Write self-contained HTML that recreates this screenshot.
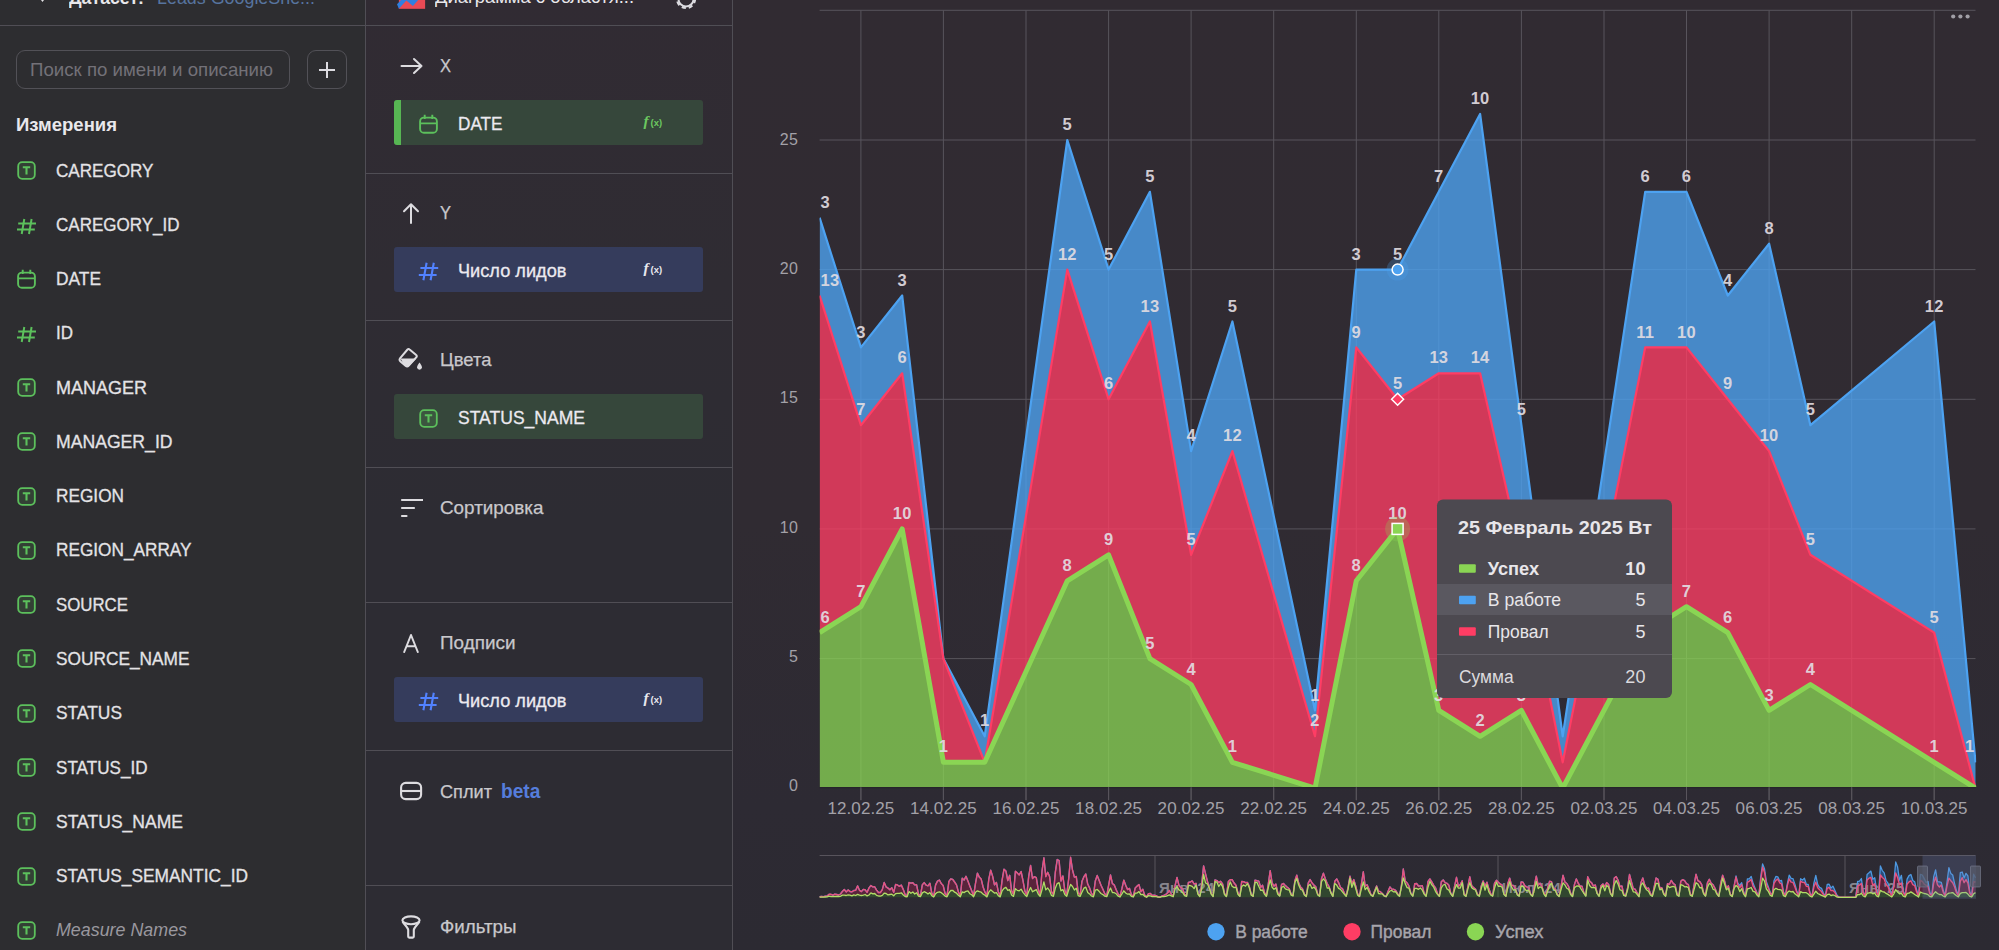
<!DOCTYPE html>
<html lang="ru"><head><meta charset="utf-8"><title>DataLens</title>
<style>
html,body{margin:0;padding:0}
body{width:1999px;height:950px;overflow:hidden;background:linear-gradient(180deg,#312b32 0%,#302b32 55%,#2d2a33 85%,#2c2a32 100%);font-family:"Liberation Sans", sans-serif;color:#e4e3e6;position:relative}
#left{position:absolute;left:0;top:0;width:365px;height:950px;background:#2d2d30;border-right:1px solid #504e55;overflow:hidden}
#mid{position:absolute;left:366px;top:0;width:366px;height:950px;background:linear-gradient(180deg,#312b33 0%,#2f2c33 30%,#2d2c33 55%,#2d2c33 100%);border-right:1px solid #504e55;overflow:hidden}
.top{position:absolute;left:0;top:0;right:0;height:25px;border-bottom:1px solid #504e55;overflow:hidden}
.search{position:absolute;left:15.5px;top:49.5px;width:272.5px;height:37.5px;border:1px solid #525157;border-radius:9px}
.search span{position:absolute;left:13px;top:8px;font-size:19px;color:#737178;white-space:nowrap;transform:scaleX(0.9819);transform-origin:0 50%}
.plus{position:absolute;left:307px;top:49.5px;width:38px;height:37.5px;border:1px solid #525157;border-radius:9px}
.plus:before{content:"";position:absolute;left:11px;top:18px;width:16px;height:2px;background:#dcdbe0}
.plus:after{content:"";position:absolute;left:18px;top:11px;width:2px;height:16px;background:#dcdbe0}
.h{position:absolute;left:16px;top:114px;font-size:18.5px;font-weight:bold;color:#e9e8ec;white-space:nowrap;transform-origin:0 50%;transform:scaleX(1.0006)}
.fi{position:absolute;left:17.3px;width:19px;height:19px}
.fn{position:absolute;left:56px;font-size:19px;line-height:28px;white-space:nowrap;color:#e4e3e6;transform-origin:0 50%;-webkit-text-stroke:.3px #e4e3e6}
.fn.it{font-style:italic;color:#9a989f;-webkit-text-stroke:0}
.hb{position:absolute;left:0;right:0;height:1px;background:#504e55}
.si{position:absolute}
.si svg,.fi svg,.pi svg,.pf svg{display:block}
.st{position:absolute;left:74px;font-size:18.5px;line-height:26px;white-space:nowrap;color:#c9c8cc;transform-origin:0 50%;-webkit-text-stroke:.25px #c9c8cc}
.beta{color:#557ddc;font-weight:bold;margin-left:4px;font-size:19.5px;-webkit-text-stroke:0}
.pill{position:absolute;left:28px;width:309px;height:45px;border-radius:3px}
.pill .bar{position:absolute;left:0;top:0;width:7px;height:45px;background:#57b653;border-radius:3px 0 0 3px}
.pi{position:absolute;left:25px;top:15px}
.pn{position:absolute;left:64px;top:9.8px;font-size:19px;line-height:28px;white-space:nowrap;color:#eceaf0;transform-origin:0 50%;-webkit-text-stroke:.3px #eceaf0}
.pf{position:absolute;left:249px;top:12.5px}
.tt{position:absolute;top:-14px;font-size:19px;line-height:normal;white-space:nowrap;transform-origin:0 50%}
</style></head><body>
<svg width="1999" height="950" viewBox="0 0 1999 950" style="position:absolute;left:0;top:0" font-family='"Liberation Sans", sans-serif'>
<line x1="819.6" x2="1975.5" y1="658.6" y2="658.6" stroke="#58545c" stroke-width="1"/>
<line x1="819.6" x2="1975.5" y1="528.9" y2="528.9" stroke="#58545c" stroke-width="1"/>
<line x1="819.6" x2="1975.5" y1="399.3" y2="399.3" stroke="#58545c" stroke-width="1"/>
<line x1="819.6" x2="1975.5" y1="269.6" y2="269.6" stroke="#58545c" stroke-width="1"/>
<line x1="819.6" x2="1975.5" y1="140.0" y2="140.0" stroke="#58545c" stroke-width="1"/>
<line x1="819.6" x2="1975.5" y1="10.3" y2="10.3" stroke="#58545c" stroke-width="1"/>
<line x1="860.9" x2="860.9" y1="10.3" y2="800.2" stroke="#58545c" stroke-width="1"/>
<line x1="943.4" x2="943.4" y1="10.3" y2="800.2" stroke="#58545c" stroke-width="1"/>
<line x1="1026.0" x2="1026.0" y1="10.3" y2="800.2" stroke="#58545c" stroke-width="1"/>
<line x1="1108.6" x2="1108.6" y1="10.3" y2="800.2" stroke="#58545c" stroke-width="1"/>
<line x1="1191.1" x2="1191.1" y1="10.3" y2="800.2" stroke="#58545c" stroke-width="1"/>
<line x1="1273.7" x2="1273.7" y1="10.3" y2="800.2" stroke="#58545c" stroke-width="1"/>
<line x1="1356.3" x2="1356.3" y1="10.3" y2="800.2" stroke="#58545c" stroke-width="1"/>
<line x1="1438.8" x2="1438.8" y1="10.3" y2="800.2" stroke="#58545c" stroke-width="1"/>
<line x1="1521.4" x2="1521.4" y1="10.3" y2="800.2" stroke="#58545c" stroke-width="1"/>
<line x1="1604.0" x2="1604.0" y1="10.3" y2="800.2" stroke="#58545c" stroke-width="1"/>
<line x1="1686.5" x2="1686.5" y1="10.3" y2="800.2" stroke="#58545c" stroke-width="1"/>
<line x1="1769.1" x2="1769.1" y1="10.3" y2="800.2" stroke="#58545c" stroke-width="1"/>
<line x1="1851.7" x2="1851.7" y1="10.3" y2="800.2" stroke="#58545c" stroke-width="1"/>
<line x1="1934.2" x2="1934.2" y1="10.3" y2="800.2" stroke="#58545c" stroke-width="1"/>
<defs><clipPath id="plot"><rect x="819.6" y="0" width="1156.7" height="787.0"/></clipPath></defs>
<g clip-path="url(#plot)">
<polygon points="819.6,217.7 860.9,347.4 902.2,295.5 943.4,658.6 984.7,736.3 1067.3,140.0 1108.6,269.6 1149.9,191.8 1191.1,451.1 1232.4,321.5 1315.0,710.4 1356.3,269.6 1397.6,269.6 1438.8,191.8 1480.1,114.0 1521.4,425.2 1562.7,736.3 1645.2,191.8 1686.5,191.8 1727.8,295.5 1769.1,243.7 1810.4,425.2 1934.2,321.5 1975.5,762.3 1975.5,788.2 1934.2,632.6 1810.4,554.8 1769.1,451.1 1727.8,399.3 1686.5,347.4 1645.2,347.4 1562.7,762.3 1521.4,554.8 1480.1,373.3 1438.8,373.3 1397.6,399.3 1356.3,347.4 1315.0,736.3 1232.4,451.1 1191.1,554.8 1149.9,321.5 1108.6,399.3 1067.3,269.6 984.7,762.3 943.4,658.6 902.2,373.3 860.9,425.2 819.6,295.5" fill="#4DA2F1" fill-opacity="0.79"/>
<polyline points="819.6,217.7 860.9,347.4 902.2,295.5 943.4,658.6 984.7,736.3 1067.3,140.0 1108.6,269.6 1149.9,191.8 1191.1,451.1 1232.4,321.5 1315.0,710.4 1356.3,269.6 1397.6,269.6 1438.8,191.8 1480.1,114.0 1521.4,425.2 1562.7,736.3 1645.2,191.8 1686.5,191.8 1727.8,295.5 1769.1,243.7 1810.4,425.2 1934.2,321.5 1975.5,762.3" fill="none" stroke="#4DA2F1" stroke-width="2.2" stroke-linejoin="round"/>
<polygon points="819.6,295.5 860.9,425.2 902.2,373.3 943.4,658.6 984.7,762.3 1067.3,269.6 1108.6,399.3 1149.9,321.5 1191.1,554.8 1232.4,451.1 1315.0,736.3 1356.3,347.4 1397.6,399.3 1438.8,373.3 1480.1,373.3 1521.4,554.8 1562.7,762.3 1645.2,347.4 1686.5,347.4 1727.8,399.3 1769.1,451.1 1810.4,554.8 1934.2,632.6 1975.5,788.2 1975.5,788.2 1934.2,762.3 1810.4,684.5 1769.1,710.4 1727.8,632.6 1686.5,606.7 1645.2,632.6 1562.7,788.2 1521.4,710.4 1480.1,736.3 1438.8,710.4 1397.6,528.9 1356.3,580.8 1315.0,788.2 1232.4,762.3 1191.1,684.5 1149.9,658.6 1108.6,554.8 1067.3,580.8 984.7,762.3 943.4,762.3 902.2,528.9 860.9,606.7 819.6,632.6" fill="#FF3D64" fill-opacity="0.78"/>
<polyline points="819.6,295.5 860.9,425.2 902.2,373.3 943.4,658.6 984.7,762.3 1067.3,269.6 1108.6,399.3 1149.9,321.5 1191.1,554.8 1232.4,451.1 1315.0,736.3 1356.3,347.4 1397.6,399.3 1438.8,373.3 1480.1,373.3 1521.4,554.8 1562.7,762.3 1645.2,347.4 1686.5,347.4 1727.8,399.3 1769.1,451.1 1810.4,554.8 1934.2,632.6 1975.5,788.2" fill="none" stroke="#FF3D64" stroke-width="2.2" stroke-linejoin="round"/>
<polygon points="819.6,632.6 860.9,606.7 902.2,528.9 943.4,762.3 984.7,762.3 1067.3,580.8 1108.6,554.8 1149.9,658.6 1191.1,684.5 1232.4,762.3 1315.0,788.2 1356.3,580.8 1397.6,528.9 1438.8,710.4 1480.1,736.3 1521.4,710.4 1562.7,788.2 1645.2,632.6 1686.5,606.7 1727.8,632.6 1769.1,710.4 1810.4,684.5 1934.2,762.3 1975.5,788.2 1975.5,788.2 819.6,788.2" fill="#8AD554" fill-opacity="0.76"/>
<polyline points="819.6,632.6 860.9,606.7 902.2,528.9 943.4,762.3 984.7,762.3 1067.3,580.8 1108.6,554.8 1149.9,658.6 1191.1,684.5 1232.4,762.3 1315.0,788.2 1356.3,580.8 1397.6,528.9 1438.8,710.4 1480.1,736.3 1521.4,710.4 1562.7,788.2 1645.2,632.6 1686.5,606.7 1727.8,632.6 1769.1,710.4 1810.4,684.5 1934.2,762.3 1975.5,788.2" fill="none" stroke="#8AD554" stroke-width="5" stroke-linejoin="round"/>
</g>
<line x1="819.6" x2="1975.5" y1="787.6" y2="787.6" stroke="#26242b" stroke-width="1.4"/>
<line x1="860.9" x2="860.9" y1="786.9000000000001" y2="800.2" stroke="#58545c" stroke-width="1"/>
<line x1="943.4" x2="943.4" y1="786.9000000000001" y2="800.2" stroke="#58545c" stroke-width="1"/>
<line x1="1026.0" x2="1026.0" y1="786.9000000000001" y2="800.2" stroke="#58545c" stroke-width="1"/>
<line x1="1108.6" x2="1108.6" y1="786.9000000000001" y2="800.2" stroke="#58545c" stroke-width="1"/>
<line x1="1191.1" x2="1191.1" y1="786.9000000000001" y2="800.2" stroke="#58545c" stroke-width="1"/>
<line x1="1273.7" x2="1273.7" y1="786.9000000000001" y2="800.2" stroke="#58545c" stroke-width="1"/>
<line x1="1356.3" x2="1356.3" y1="786.9000000000001" y2="800.2" stroke="#58545c" stroke-width="1"/>
<line x1="1438.8" x2="1438.8" y1="786.9000000000001" y2="800.2" stroke="#58545c" stroke-width="1"/>
<line x1="1521.4" x2="1521.4" y1="786.9000000000001" y2="800.2" stroke="#58545c" stroke-width="1"/>
<line x1="1604.0" x2="1604.0" y1="786.9000000000001" y2="800.2" stroke="#58545c" stroke-width="1"/>
<line x1="1686.5" x2="1686.5" y1="786.9000000000001" y2="800.2" stroke="#58545c" stroke-width="1"/>
<line x1="1769.1" x2="1769.1" y1="786.9000000000001" y2="800.2" stroke="#58545c" stroke-width="1"/>
<line x1="1851.7" x2="1851.7" y1="786.9000000000001" y2="800.2" stroke="#58545c" stroke-width="1"/>
<line x1="1934.2" x2="1934.2" y1="786.9000000000001" y2="800.2" stroke="#58545c" stroke-width="1"/>
<text x="798" y="791.0" text-anchor="end" font-size="16" fill="#a3a1a8" letter-spacing="0.2">0</text>
<text x="798" y="661.8" text-anchor="end" font-size="16" fill="#a3a1a8" letter-spacing="0.2">5</text>
<text x="798" y="532.5" text-anchor="end" font-size="16" fill="#a3a1a8" letter-spacing="0.2">10</text>
<text x="798" y="403.3" text-anchor="end" font-size="16" fill="#a3a1a8" letter-spacing="0.2">15</text>
<text x="798" y="274.1" text-anchor="end" font-size="16" fill="#a3a1a8" letter-spacing="0.2">20</text>
<text x="798" y="144.8" text-anchor="end" font-size="16" fill="#a3a1a8" letter-spacing="0.2">25</text>
<text x="860.9" y="814.2" text-anchor="middle" font-size="17" fill="#a3a1a8" letter-spacing="0.1">12.02.25</text>
<text x="943.4" y="814.2" text-anchor="middle" font-size="17" fill="#a3a1a8" letter-spacing="0.1">14.02.25</text>
<text x="1026.0" y="814.2" text-anchor="middle" font-size="17" fill="#a3a1a8" letter-spacing="0.1">16.02.25</text>
<text x="1108.6" y="814.2" text-anchor="middle" font-size="17" fill="#a3a1a8" letter-spacing="0.1">18.02.25</text>
<text x="1191.1" y="814.2" text-anchor="middle" font-size="17" fill="#a3a1a8" letter-spacing="0.1">20.02.25</text>
<text x="1273.7" y="814.2" text-anchor="middle" font-size="17" fill="#a3a1a8" letter-spacing="0.1">22.02.25</text>
<text x="1356.3" y="814.2" text-anchor="middle" font-size="17" fill="#a3a1a8" letter-spacing="0.1">24.02.25</text>
<text x="1438.8" y="814.2" text-anchor="middle" font-size="17" fill="#a3a1a8" letter-spacing="0.1">26.02.25</text>
<text x="1521.4" y="814.2" text-anchor="middle" font-size="17" fill="#a3a1a8" letter-spacing="0.1">28.02.25</text>
<text x="1604.0" y="814.2" text-anchor="middle" font-size="17" fill="#a3a1a8" letter-spacing="0.1">02.03.25</text>
<text x="1686.5" y="814.2" text-anchor="middle" font-size="17" fill="#a3a1a8" letter-spacing="0.1">04.03.25</text>
<text x="1769.1" y="814.2" text-anchor="middle" font-size="17" fill="#a3a1a8" letter-spacing="0.1">06.03.25</text>
<text x="1851.7" y="814.2" text-anchor="middle" font-size="17" fill="#a3a1a8" letter-spacing="0.1">08.03.25</text>
<text x="1934.2" y="814.2" text-anchor="middle" font-size="17" fill="#a3a1a8" letter-spacing="0.1">10.03.25</text>
<text x="820.6" y="622.7" text-anchor="start" font-size="16.5" font-weight="bold" fill="#e2dde2" fill-opacity="0.92" letter-spacing="0.2">6</text>
<text x="820.6" y="285.6" text-anchor="start" font-size="16.5" font-weight="bold" fill="#e2dde2" fill-opacity="0.92" letter-spacing="0.2">13</text>
<text x="820.6" y="207.8" text-anchor="start" font-size="16.5" font-weight="bold" fill="#e2dde2" fill-opacity="0.92" letter-spacing="0.2">3</text>
<text x="860.9" y="596.8" text-anchor="middle" font-size="16.5" font-weight="bold" fill="#e2dde2" fill-opacity="0.92" letter-spacing="0.2">7</text>
<text x="860.9" y="415.3" text-anchor="middle" font-size="16.5" font-weight="bold" fill="#e2dde2" fill-opacity="0.92" letter-spacing="0.2">7</text>
<text x="860.9" y="337.5" text-anchor="middle" font-size="16.5" font-weight="bold" fill="#e2dde2" fill-opacity="0.92" letter-spacing="0.2">3</text>
<text x="902.2" y="519.0" text-anchor="middle" font-size="16.5" font-weight="bold" fill="#e2dde2" fill-opacity="0.92" letter-spacing="0.2">10</text>
<text x="902.2" y="363.4" text-anchor="middle" font-size="16.5" font-weight="bold" fill="#e2dde2" fill-opacity="0.92" letter-spacing="0.2">6</text>
<text x="902.2" y="285.6" text-anchor="middle" font-size="16.5" font-weight="bold" fill="#e2dde2" fill-opacity="0.92" letter-spacing="0.2">3</text>
<text x="943.4" y="752.4" text-anchor="middle" font-size="16.5" font-weight="bold" fill="#e2dde2" fill-opacity="0.92" letter-spacing="0.2">1</text>
<text x="984.7" y="726.4" text-anchor="middle" font-size="16.5" font-weight="bold" fill="#e2dde2" fill-opacity="0.92" letter-spacing="0.2">1</text>
<text x="1067.3" y="570.9" text-anchor="middle" font-size="16.5" font-weight="bold" fill="#e2dde2" fill-opacity="0.92" letter-spacing="0.2">8</text>
<text x="1067.3" y="259.7" text-anchor="middle" font-size="16.5" font-weight="bold" fill="#e2dde2" fill-opacity="0.92" letter-spacing="0.2">12</text>
<text x="1067.3" y="130.1" text-anchor="middle" font-size="16.5" font-weight="bold" fill="#e2dde2" fill-opacity="0.92" letter-spacing="0.2">5</text>
<text x="1108.6" y="544.9" text-anchor="middle" font-size="16.5" font-weight="bold" fill="#e2dde2" fill-opacity="0.92" letter-spacing="0.2">9</text>
<text x="1108.6" y="389.4" text-anchor="middle" font-size="16.5" font-weight="bold" fill="#e2dde2" fill-opacity="0.92" letter-spacing="0.2">6</text>
<text x="1108.6" y="259.7" text-anchor="middle" font-size="16.5" font-weight="bold" fill="#e2dde2" fill-opacity="0.92" letter-spacing="0.2">5</text>
<text x="1149.9" y="648.7" text-anchor="middle" font-size="16.5" font-weight="bold" fill="#e2dde2" fill-opacity="0.92" letter-spacing="0.2">5</text>
<text x="1149.9" y="311.6" text-anchor="middle" font-size="16.5" font-weight="bold" fill="#e2dde2" fill-opacity="0.92" letter-spacing="0.2">13</text>
<text x="1149.9" y="181.9" text-anchor="middle" font-size="16.5" font-weight="bold" fill="#e2dde2" fill-opacity="0.92" letter-spacing="0.2">5</text>
<text x="1191.1" y="674.6" text-anchor="middle" font-size="16.5" font-weight="bold" fill="#e2dde2" fill-opacity="0.92" letter-spacing="0.2">4</text>
<text x="1191.1" y="544.9" text-anchor="middle" font-size="16.5" font-weight="bold" fill="#e2dde2" fill-opacity="0.92" letter-spacing="0.2">5</text>
<text x="1191.1" y="441.2" text-anchor="middle" font-size="16.5" font-weight="bold" fill="#e2dde2" fill-opacity="0.92" letter-spacing="0.2">4</text>
<text x="1232.4" y="752.4" text-anchor="middle" font-size="16.5" font-weight="bold" fill="#e2dde2" fill-opacity="0.92" letter-spacing="0.2">1</text>
<text x="1232.4" y="441.2" text-anchor="middle" font-size="16.5" font-weight="bold" fill="#e2dde2" fill-opacity="0.92" letter-spacing="0.2">12</text>
<text x="1232.4" y="311.6" text-anchor="middle" font-size="16.5" font-weight="bold" fill="#e2dde2" fill-opacity="0.92" letter-spacing="0.2">5</text>
<text x="1315.0" y="700.5" text-anchor="middle" font-size="16.5" font-weight="bold" fill="#e2dde2" fill-opacity="0.92" letter-spacing="0.2">1</text>
<text x="1315.0" y="726.4" text-anchor="middle" font-size="16.5" font-weight="bold" fill="#e2dde2" fill-opacity="0.92" letter-spacing="0.2">2</text>
<text x="1356.3" y="570.9" text-anchor="middle" font-size="16.5" font-weight="bold" fill="#e2dde2" fill-opacity="0.92" letter-spacing="0.2">8</text>
<text x="1356.3" y="337.5" text-anchor="middle" font-size="16.5" font-weight="bold" fill="#e2dde2" fill-opacity="0.92" letter-spacing="0.2">9</text>
<text x="1356.3" y="259.7" text-anchor="middle" font-size="16.5" font-weight="bold" fill="#e2dde2" fill-opacity="0.92" letter-spacing="0.2">3</text>
<text x="1397.6" y="519.0" text-anchor="middle" font-size="16.5" font-weight="bold" fill="#e2dde2" fill-opacity="0.92" letter-spacing="0.2">10</text>
<text x="1397.6" y="389.4" text-anchor="middle" font-size="16.5" font-weight="bold" fill="#e2dde2" fill-opacity="0.92" letter-spacing="0.2">5</text>
<text x="1397.6" y="259.7" text-anchor="middle" font-size="16.5" font-weight="bold" fill="#e2dde2" fill-opacity="0.92" letter-spacing="0.2">5</text>
<text x="1438.8" y="700.5" text-anchor="middle" font-size="16.5" font-weight="bold" fill="#e2dde2" fill-opacity="0.92" letter-spacing="0.2">3</text>
<text x="1438.8" y="363.4" text-anchor="middle" font-size="16.5" font-weight="bold" fill="#e2dde2" fill-opacity="0.92" letter-spacing="0.2">13</text>
<text x="1438.8" y="181.9" text-anchor="middle" font-size="16.5" font-weight="bold" fill="#e2dde2" fill-opacity="0.92" letter-spacing="0.2">7</text>
<text x="1480.1" y="726.4" text-anchor="middle" font-size="16.5" font-weight="bold" fill="#e2dde2" fill-opacity="0.92" letter-spacing="0.2">2</text>
<text x="1480.1" y="363.4" text-anchor="middle" font-size="16.5" font-weight="bold" fill="#e2dde2" fill-opacity="0.92" letter-spacing="0.2">14</text>
<text x="1480.1" y="104.1" text-anchor="middle" font-size="16.5" font-weight="bold" fill="#e2dde2" fill-opacity="0.92" letter-spacing="0.2">10</text>
<text x="1521.4" y="700.5" text-anchor="middle" font-size="16.5" font-weight="bold" fill="#e2dde2" fill-opacity="0.92" letter-spacing="0.2">3</text>
<text x="1521.4" y="544.9" text-anchor="middle" font-size="16.5" font-weight="bold" fill="#e2dde2" fill-opacity="0.92" letter-spacing="0.2">6</text>
<text x="1521.4" y="415.3" text-anchor="middle" font-size="16.5" font-weight="bold" fill="#e2dde2" fill-opacity="0.92" letter-spacing="0.2">5</text>
<text x="1645.2" y="622.7" text-anchor="middle" font-size="16.5" font-weight="bold" fill="#e2dde2" fill-opacity="0.92" letter-spacing="0.2">6</text>
<text x="1645.2" y="337.5" text-anchor="middle" font-size="16.5" font-weight="bold" fill="#e2dde2" fill-opacity="0.92" letter-spacing="0.2">11</text>
<text x="1645.2" y="181.9" text-anchor="middle" font-size="16.5" font-weight="bold" fill="#e2dde2" fill-opacity="0.92" letter-spacing="0.2">6</text>
<text x="1686.5" y="596.8" text-anchor="middle" font-size="16.5" font-weight="bold" fill="#e2dde2" fill-opacity="0.92" letter-spacing="0.2">7</text>
<text x="1686.5" y="337.5" text-anchor="middle" font-size="16.5" font-weight="bold" fill="#e2dde2" fill-opacity="0.92" letter-spacing="0.2">10</text>
<text x="1686.5" y="181.9" text-anchor="middle" font-size="16.5" font-weight="bold" fill="#e2dde2" fill-opacity="0.92" letter-spacing="0.2">6</text>
<text x="1727.8" y="622.7" text-anchor="middle" font-size="16.5" font-weight="bold" fill="#e2dde2" fill-opacity="0.92" letter-spacing="0.2">6</text>
<text x="1727.8" y="389.4" text-anchor="middle" font-size="16.5" font-weight="bold" fill="#e2dde2" fill-opacity="0.92" letter-spacing="0.2">9</text>
<text x="1727.8" y="285.6" text-anchor="middle" font-size="16.5" font-weight="bold" fill="#e2dde2" fill-opacity="0.92" letter-spacing="0.2">4</text>
<text x="1769.1" y="700.5" text-anchor="middle" font-size="16.5" font-weight="bold" fill="#e2dde2" fill-opacity="0.92" letter-spacing="0.2">3</text>
<text x="1769.1" y="441.2" text-anchor="middle" font-size="16.5" font-weight="bold" fill="#e2dde2" fill-opacity="0.92" letter-spacing="0.2">10</text>
<text x="1769.1" y="233.8" text-anchor="middle" font-size="16.5" font-weight="bold" fill="#e2dde2" fill-opacity="0.92" letter-spacing="0.2">8</text>
<text x="1810.4" y="674.6" text-anchor="middle" font-size="16.5" font-weight="bold" fill="#e2dde2" fill-opacity="0.92" letter-spacing="0.2">4</text>
<text x="1810.4" y="544.9" text-anchor="middle" font-size="16.5" font-weight="bold" fill="#e2dde2" fill-opacity="0.92" letter-spacing="0.2">5</text>
<text x="1810.4" y="415.3" text-anchor="middle" font-size="16.5" font-weight="bold" fill="#e2dde2" fill-opacity="0.92" letter-spacing="0.2">5</text>
<text x="1934.2" y="752.4" text-anchor="middle" font-size="16.5" font-weight="bold" fill="#e2dde2" fill-opacity="0.92" letter-spacing="0.2">1</text>
<text x="1934.2" y="622.7" text-anchor="middle" font-size="16.5" font-weight="bold" fill="#e2dde2" fill-opacity="0.92" letter-spacing="0.2">5</text>
<text x="1934.2" y="311.6" text-anchor="middle" font-size="16.5" font-weight="bold" fill="#e2dde2" fill-opacity="0.92" letter-spacing="0.2">12</text>
<text x="1974.5" y="752.4" text-anchor="end" font-size="16.5" font-weight="bold" fill="#e2dde2" fill-opacity="0.92" letter-spacing="0.2">1</text>
<circle cx="1397.6" cy="269.6" r="11" fill="#4DA2F1" fill-opacity="0.25"/>
<circle cx="1397.6" cy="269.6" r="5.5" fill="#4DA2F1" stroke="#fff" stroke-width="1.5"/>
<polygon points="1397.6,393.3 1403.6,399.3 1397.6,405.3 1391.6,399.3" fill="#FF3D64" stroke="#fff" stroke-width="1.5"/>
<circle cx="1397.6" cy="528.9" r="12.5" fill="#8AD554" fill-opacity="0.28"/>
<rect x="1392.1" y="523.4" width="11" height="11" fill="#8AD554" stroke="#fff" stroke-width="1.5"/>
<line x1="819.6" x2="1975.5" y1="855.5" y2="855.5" stroke="#58545c" stroke-width="1"/>
<line x1="1155" x2="1155" y1="855.5" y2="897.3" stroke="#58545c" stroke-width="1"/>
<line x1="1498" x2="1498" y1="855.5" y2="897.3" stroke="#58545c" stroke-width="1"/>
<line x1="1845" x2="1845" y1="855.5" y2="897.3" stroke="#58545c" stroke-width="1"/>
<polygon points="819.6,896.7 821.5,896.5 823.4,896.6 825.3,896.2 827.2,895.9 829.1,894.3 831.0,894.3 832.9,895.2 834.8,894.2 836.7,894.5 838.6,895.0 840.5,894.0 842.4,891.4 844.3,889.5 846.2,891.9 848.1,889.9 850.0,891.5 851.9,891.8 853.8,890.5 855.7,890.2 857.6,885.9 859.5,890.3 861.4,891.6 863.3,889.4 865.2,889.8 867.1,892.3 869.0,887.9 870.9,885.5 872.8,886.9 874.7,886.8 876.6,890.1 878.5,892.5 880.4,892.5 882.3,889.6 884.2,882.5 886.1,886.9 888.0,888.1 889.9,889.7 891.8,887.8 893.7,892.3 895.6,884.4 897.5,885.0 899.4,886.3 901.3,885.1 903.3,889.6 905.2,894.7 907.1,896.0 909.0,882.5 910.9,883.1 912.8,882.7 914.7,884.9 916.6,884.8 918.5,894.1 920.4,895.8 922.3,884.8 924.2,882.6 926.1,885.2 928.0,885.8 929.9,883.2 931.8,893.1 933.7,896.1 935.6,884.9 937.5,881.1 939.4,880.0 941.3,883.6 943.2,885.6 945.1,893.5 947.0,895.8 948.9,881.4 950.8,878.8 952.7,879.4 954.6,882.0 956.5,884.9 958.4,891.9 960.3,896.0 962.2,878.2 964.1,880.1 966.0,876.3 967.9,880.9 969.8,886.1 971.7,890.8 973.6,895.7 975.5,883.3 977.4,873.1 979.3,877.1 981.2,879.1 983.1,887.0 985.0,892.2 986.9,895.8 988.8,879.1 990.7,870.2 992.6,876.1 994.5,884.9 996.4,882.4 998.3,891.7 1000.2,895.9 1002.1,880.1 1004.0,869.2 1005.9,870.9 1007.8,880.5 1009.7,875.3 1011.6,890.6 1013.5,894.4 1015.4,871.3 1017.3,872.9 1019.2,874.9 1021.1,871.5 1023.0,880.7 1024.9,891.1 1026.8,895.0 1028.7,876.4 1030.6,865.4 1032.5,878.5 1034.4,876.6 1036.3,877.6 1038.2,889.3 1040.1,895.3 1042.0,871.1 1043.9,857.8 1045.8,876.6 1047.7,872.3 1049.6,876.6 1051.5,891.6 1053.4,894.6 1055.3,872.3 1057.2,859.5 1059.1,860.6 1061.0,881.0 1062.9,876.0 1064.8,890.3 1066.7,894.9 1068.7,878.5 1070.6,857.3 1072.5,869.9 1074.4,877.1 1076.3,876.5 1078.2,892.7 1080.1,894.9 1082.0,881.2 1083.9,876.7 1085.8,874.0 1087.7,884.0 1089.6,887.9 1091.5,893.5 1093.4,895.6 1095.3,881.0 1097.2,875.4 1099.1,880.2 1101.0,885.2 1102.9,889.2 1104.8,893.8 1106.7,895.9 1108.6,885.4 1110.5,875.0 1112.4,883.5 1114.3,885.1 1116.2,889.7 1118.1,893.8 1120.0,896.4 1121.9,888.7 1123.8,880.1 1125.7,885.3 1127.6,889.6 1129.5,888.4 1131.4,894.6 1133.3,896.5 1135.2,887.9 1137.1,886.1 1139.0,884.6 1140.9,891.5 1142.8,889.3 1144.7,895.1 1146.6,896.9 1148.5,893.7 1150.4,893.5 1152.3,895.4 1154.2,895.2 1156.1,895.6 1158.0,896.8 1159.9,897.2 1161.8,896.1 1163.7,895.4 1165.6,894.6 1167.5,892.9 1169.4,890.5 1171.3,894.3 1173.2,896.3 1175.1,885.3 1177.0,877.5 1178.9,885.2 1180.8,887.6 1182.7,889.1 1184.6,894.2 1186.5,896.1 1188.4,882.4 1190.3,882.0 1192.2,880.9 1194.1,884.0 1196.0,883.3 1197.9,893.3 1199.8,896.0 1201.7,884.1 1203.6,865.9 1205.5,873.7 1207.4,881.2 1209.3,886.9 1211.2,893.5 1213.1,896.1 1215.0,879.9 1216.9,880.6 1218.8,882.6 1220.7,881.3 1222.6,883.9 1224.5,893.4 1226.4,896.3 1228.3,881.6 1230.2,879.7 1232.1,879.7 1234.1,883.0 1236.0,885.3 1237.9,892.6 1239.8,896.1 1241.7,881.5 1243.6,881.7 1245.5,882.7 1247.4,882.4 1249.3,886.3 1251.2,894.1 1253.1,896.2 1255.0,880.2 1256.9,880.7 1258.8,881.1 1260.7,887.2 1262.6,885.3 1264.5,892.7 1266.4,896.2 1268.3,883.8 1270.2,870.6 1272.1,882.8 1274.0,886.1 1275.9,884.1 1277.8,892.6 1279.7,895.7 1281.6,884.4 1283.5,883.5 1285.4,885.6 1287.3,887.3 1289.2,888.7 1291.1,893.9 1293.0,895.6 1294.9,880.6 1296.8,875.1 1298.7,883.1 1300.6,886.9 1302.5,888.7 1304.4,894.2 1306.3,896.3 1308.2,883.1 1310.1,879.5 1312.0,882.8 1313.9,885.1 1315.8,886.8 1317.7,894.1 1319.6,896.0 1321.5,878.7 1323.4,873.1 1325.3,878.8 1327.2,883.6 1329.1,886.7 1331.0,892.6 1332.9,896.1 1334.8,881.2 1336.7,878.9 1338.6,882.6 1340.5,887.5 1342.4,888.6 1344.3,893.0 1346.2,896.0 1348.1,887.1 1350.0,876.1 1351.9,883.9 1353.8,879.6 1355.7,886.0 1357.6,893.7 1359.5,896.3 1361.4,884.2 1363.3,871.8 1365.2,886.0 1367.1,884.8 1369.0,889.0 1370.9,894.4 1372.8,896.1 1374.7,890.7 1376.6,885.9 1378.5,891.1 1380.4,891.7 1382.3,893.5 1384.2,895.7 1386.1,896.6 1388.0,891.5 1389.9,886.9 1391.8,889.1 1393.7,889.3 1395.6,890.4 1397.6,893.6 1399.5,896.1 1401.4,886.0 1403.3,869.0 1405.2,880.9 1407.1,882.9 1409.0,886.1 1410.9,893.4 1412.8,895.8 1414.7,883.8 1416.6,883.5 1418.5,886.0 1420.4,885.9 1422.3,885.7 1424.2,893.6 1426.1,895.8 1428.0,881.4 1429.9,878.9 1431.8,881.8 1433.7,885.3 1435.6,887.9 1437.5,893.8 1439.4,896.2 1441.3,881.8 1443.2,879.9 1445.1,882.6 1447.0,883.3 1448.9,885.3 1450.8,893.4 1452.7,896.0 1454.6,886.1 1456.5,877.3 1458.4,886.3 1460.3,884.6 1462.2,880.8 1464.1,894.0 1466.0,896.0 1467.9,886.3 1469.8,876.8 1471.7,885.7 1473.6,887.6 1475.5,889.0 1477.4,894.0 1479.3,895.8 1481.2,886.2 1483.1,881.0 1485.0,886.1 1486.9,882.2 1488.8,888.6 1490.7,893.6 1492.6,895.8 1494.5,883.4 1496.4,880.3 1498.3,882.3 1500.2,884.0 1502.1,884.8 1504.0,893.8 1505.9,896.1 1507.8,883.4 1509.7,878.1 1511.6,885.4 1513.5,885.5 1515.4,888.8 1517.3,894.2 1519.2,895.9 1521.1,882.0 1523.0,882.2 1524.9,885.9 1526.8,886.9 1528.7,887.3 1530.6,893.9 1532.5,896.0 1534.4,885.1 1536.3,876.2 1538.2,885.1 1540.1,883.3 1542.0,886.6 1543.9,892.6 1545.8,896.2 1547.7,887.9 1549.6,881.3 1551.5,881.6 1553.4,888.3 1555.3,888.9 1557.2,894.4 1559.1,896.2 1561.0,886.3 1563.0,875.3 1564.9,882.0 1566.8,883.5 1568.7,886.7 1570.6,893.2 1572.5,896.3 1574.4,884.6 1576.3,878.9 1578.2,883.2 1580.1,886.2 1582.0,886.1 1583.9,892.9 1585.8,895.7 1587.7,876.7 1589.6,880.9 1591.5,882.7 1593.4,885.9 1595.3,885.0 1597.2,893.3 1599.1,895.8 1601.0,885.8 1602.9,883.9 1604.8,886.5 1606.7,882.6 1608.6,884.5 1610.5,892.9 1612.4,896.2 1614.3,878.0 1616.2,876.6 1618.1,880.3 1620.0,886.7 1621.9,886.0 1623.8,894.4 1625.7,896.0 1627.6,887.8 1629.5,874.5 1631.4,881.7 1633.3,888.7 1635.2,889.2 1637.1,892.9 1639.0,896.3 1640.9,882.8 1642.8,878.0 1644.7,884.9 1646.6,888.6 1648.5,888.0 1650.4,893.4 1652.3,896.0 1654.2,886.9 1656.1,878.0 1658.0,879.3 1659.9,888.3 1661.8,887.8 1663.7,893.1 1665.6,895.8 1667.5,883.6 1669.4,884.3 1671.3,880.4 1673.2,883.4 1675.1,884.8 1677.0,893.7 1678.9,895.8 1680.8,881.2 1682.7,879.6 1684.6,880.6 1686.5,883.6 1688.4,884.6 1690.3,894.0 1692.2,895.9 1694.1,885.0 1696.0,874.3 1697.9,880.6 1699.8,881.7 1701.7,884.7 1703.6,892.7 1705.5,895.9 1707.4,882.8 1709.3,879.3 1711.2,883.2 1713.1,884.8 1715.0,888.3 1716.9,893.0 1718.8,896.3 1720.7,883.1 1722.6,875.3 1724.5,880.6 1726.4,888.4 1728.4,885.8 1730.3,894.2 1732.2,896.3 1734.1,886.1 1736.0,876.0 1737.9,883.3 1739.8,885.4 1741.7,882.7 1743.6,891.6 1745.5,896.2 1747.4,878.8 1749.3,878.8 1751.2,876.4 1753.1,883.3 1755.0,888.0 1756.9,892.6 1758.8,895.9 1760.7,877.2 1762.6,863.9 1764.5,868.8 1766.4,881.6 1768.3,886.8 1770.2,892.3 1772.1,895.5 1774.0,880.7 1775.9,876.4 1777.8,876.8 1779.7,881.0 1781.6,880.5 1783.5,891.8 1785.4,895.7 1787.3,883.9 1789.2,875.1 1791.1,878.3 1793.0,878.6 1794.9,884.1 1796.8,891.0 1798.7,895.8 1800.6,878.7 1802.5,880.1 1804.4,878.3 1806.3,884.3 1808.2,884.4 1810.1,893.2 1812.0,896.3 1813.9,883.2 1815.8,875.3 1817.7,884.3 1819.6,887.3 1821.5,888.3 1823.4,893.0 1825.3,896.0 1827.2,884.5 1829.1,884.2 1831.0,888.1 1832.9,886.1 1834.8,890.3 1836.7,894.6 1838.6,896.9 1840.5,897.3 1842.4,897.3 1844.3,897.3 1846.2,897.3 1848.1,897.3 1850.0,897.3 1851.9,897.3 1853.8,897.3 1855.7,897.3 1857.6,881.5 1859.5,881.2 1861.4,878.5 1863.3,892.3 1865.2,895.3 1867.1,874.4 1869.0,872.8 1870.9,871.1 1872.8,879.4 1874.7,877.6 1876.6,890.0 1878.5,895.4 1880.4,866.0 1882.3,870.6 1884.2,872.8 1886.1,880.7 1888.0,883.1 1889.9,890.3 1891.8,895.5 1893.8,883.1 1895.7,862.0 1897.6,867.1 1899.5,880.2 1901.4,875.3 1903.3,890.9 1905.2,895.5 1907.1,879.1 1909.0,875.6 1910.9,874.5 1912.8,880.5 1914.7,881.8 1916.6,889.6 1918.5,895.7 1920.4,874.4 1922.3,875.0 1924.2,878.6 1926.1,882.5 1928.0,881.4 1929.9,892.5 1931.8,895.4 1933.7,876.7 1935.6,869.8 1937.5,881.6 1939.4,881.9 1941.3,882.3 1943.2,889.9 1945.1,895.6 1947.0,882.4 1948.9,867.7 1950.8,873.4 1952.7,875.0 1954.6,883.6 1956.5,890.9 1958.4,894.9 1960.3,872.7 1962.2,872.0 1964.1,877.9 1966.0,873.3 1967.9,875.8 1969.8,892.1 1971.7,895.8 1973.6,874.2 1975.5,877.8 1975.5,882.0 1973.6,881.7 1971.7,896.1 1969.8,893.3 1967.9,883.2 1966.0,879.7 1964.1,882.7 1962.2,877.7 1960.3,881.3 1958.4,895.6 1956.5,892.7 1954.6,887.0 1952.7,882.7 1950.8,880.7 1948.9,878.1 1947.0,886.2 1945.1,896.0 1943.2,892.3 1941.3,885.1 1939.4,887.1 1937.5,884.8 1935.6,877.2 1933.7,883.1 1931.8,895.8 1929.9,894.1 1928.0,886.4 1926.1,885.3 1924.2,884.2 1922.3,881.3 1920.4,880.5 1918.5,896.2 1916.6,891.8 1914.7,885.6 1912.8,884.7 1910.9,880.8 1909.0,881.9 1907.1,884.2 1905.2,896.0 1903.3,892.9 1901.4,883.1 1899.5,884.9 1897.6,877.4 1895.7,872.9 1893.8,885.9 1891.8,896.0 1889.9,892.2 1888.0,886.5 1886.1,884.6 1884.2,879.0 1882.3,877.5 1880.4,874.9 1878.5,895.8 1876.6,892.3 1874.7,883.8 1872.8,885.3 1870.9,877.4 1869.0,878.2 1867.1,880.1 1865.2,895.7 1863.3,893.5 1861.4,883.5 1859.5,885.1 1857.6,885.8 1855.7,897.3 1853.8,897.3 1851.9,897.3 1850.0,897.3 1848.1,897.3 1846.2,897.3 1844.3,897.3 1842.4,897.3 1840.5,897.3 1838.6,897.1 1836.7,895.9 1834.8,892.2 1832.9,890.5 1831.0,890.6 1829.1,887.4 1827.2,888.4 1825.3,896.4 1823.4,894.5 1821.5,891.6 1819.6,889.8 1817.7,887.8 1815.8,882.2 1813.9,886.8 1812.0,896.5 1810.1,894.0 1808.2,886.4 1806.3,886.2 1804.4,882.5 1802.5,882.4 1800.6,881.1 1798.7,896.0 1796.8,892.2 1794.9,887.0 1793.0,882.4 1791.1,882.1 1789.2,878.9 1787.3,885.6 1785.4,895.9 1783.5,893.0 1781.6,884.0 1779.7,882.8 1777.8,879.1 1775.9,880.4 1774.0,883.4 1772.1,895.7 1770.2,892.9 1768.3,888.1 1766.4,884.2 1764.5,872.2 1762.6,867.2 1760.7,879.9 1758.8,896.2 1756.9,893.2 1755.0,889.1 1753.1,886.2 1751.2,879.6 1749.3,881.1 1747.4,882.4 1745.5,896.3 1743.6,892.5 1741.7,884.6 1739.8,887.6 1737.9,885.0 1736.0,876.9 1734.1,886.1 1732.2,896.3 1730.3,894.2 1728.4,885.8 1726.4,888.4 1724.5,880.6 1722.6,875.3 1720.7,883.1 1718.8,896.3 1716.9,893.0 1715.0,888.3 1713.1,884.8 1711.2,883.2 1709.3,879.3 1707.4,882.8 1705.5,895.9 1703.6,892.7 1701.7,884.7 1699.8,881.7 1697.9,880.6 1696.0,874.3 1694.1,885.0 1692.2,895.9 1690.3,894.0 1688.4,884.6 1686.5,883.6 1684.6,880.6 1682.7,879.6 1680.8,881.2 1678.9,895.8 1677.0,893.7 1675.1,884.8 1673.2,883.4 1671.3,880.4 1669.4,884.3 1667.5,883.6 1665.6,895.8 1663.7,893.1 1661.8,887.8 1659.9,888.3 1658.0,879.3 1656.1,878.0 1654.2,886.9 1652.3,896.0 1650.4,893.4 1648.5,888.0 1646.6,888.6 1644.7,884.9 1642.8,878.0 1640.9,882.8 1639.0,896.3 1637.1,892.9 1635.2,889.2 1633.3,888.7 1631.4,881.7 1629.5,874.5 1627.6,887.8 1625.7,896.0 1623.8,894.4 1621.9,886.0 1620.0,886.7 1618.1,880.3 1616.2,876.6 1614.3,878.0 1612.4,896.2 1610.5,892.9 1608.6,884.5 1606.7,882.6 1604.8,886.5 1602.9,883.9 1601.0,885.8 1599.1,895.8 1597.2,893.3 1595.3,885.0 1593.4,885.9 1591.5,882.7 1589.6,880.9 1587.7,876.7 1585.8,895.7 1583.9,892.9 1582.0,886.1 1580.1,886.2 1578.2,883.2 1576.3,878.9 1574.4,884.6 1572.5,896.3 1570.6,893.2 1568.7,886.7 1566.8,883.5 1564.9,882.0 1563.0,875.3 1561.0,886.3 1559.1,896.2 1557.2,894.4 1555.3,888.9 1553.4,888.3 1551.5,881.6 1549.6,881.3 1547.7,887.9 1545.8,896.2 1543.9,892.6 1542.0,886.6 1540.1,883.3 1538.2,885.1 1536.3,876.2 1534.4,885.1 1532.5,896.0 1530.6,893.9 1528.7,887.3 1526.8,886.9 1524.9,885.9 1523.0,882.2 1521.1,882.0 1519.2,895.9 1517.3,894.2 1515.4,888.8 1513.5,885.5 1511.6,885.4 1509.7,878.1 1507.8,883.4 1505.9,896.1 1504.0,893.8 1502.1,884.8 1500.2,884.0 1498.3,882.3 1496.4,880.3 1494.5,883.4 1492.6,895.8 1490.7,893.6 1488.8,888.6 1486.9,882.2 1485.0,886.1 1483.1,881.0 1481.2,886.2 1479.3,895.8 1477.4,894.0 1475.5,889.0 1473.6,887.6 1471.7,885.7 1469.8,876.8 1467.9,886.3 1466.0,896.0 1464.1,894.0 1462.2,880.8 1460.3,884.6 1458.4,886.3 1456.5,877.3 1454.6,886.1 1452.7,896.0 1450.8,893.4 1448.9,885.3 1447.0,883.3 1445.1,882.6 1443.2,879.9 1441.3,881.8 1439.4,896.2 1437.5,893.8 1435.6,887.9 1433.7,885.3 1431.8,881.8 1429.9,878.9 1428.0,881.4 1426.1,895.8 1424.2,893.6 1422.3,885.7 1420.4,885.9 1418.5,886.0 1416.6,883.5 1414.7,883.8 1412.8,895.8 1410.9,893.4 1409.0,886.1 1407.1,882.9 1405.2,880.9 1403.3,869.0 1401.4,886.0 1399.5,896.1 1397.6,893.6 1395.6,890.4 1393.7,889.3 1391.8,889.1 1389.9,886.9 1388.0,891.5 1386.1,896.6 1384.2,895.7 1382.3,893.5 1380.4,891.7 1378.5,891.1 1376.6,885.9 1374.7,890.7 1372.8,896.1 1370.9,894.4 1369.0,889.0 1367.1,884.8 1365.2,886.0 1363.3,871.8 1361.4,884.2 1359.5,896.3 1357.6,893.7 1355.7,886.0 1353.8,879.6 1351.9,883.9 1350.0,876.1 1348.1,887.1 1346.2,896.0 1344.3,893.0 1342.4,888.6 1340.5,887.5 1338.6,882.6 1336.7,878.9 1334.8,881.2 1332.9,896.1 1331.0,892.6 1329.1,886.7 1327.2,883.6 1325.3,878.8 1323.4,873.1 1321.5,878.7 1319.6,896.0 1317.7,894.1 1315.8,886.8 1313.9,885.1 1312.0,882.8 1310.1,879.5 1308.2,883.1 1306.3,896.3 1304.4,894.2 1302.5,888.7 1300.6,886.9 1298.7,883.1 1296.8,875.1 1294.9,880.6 1293.0,895.6 1291.1,893.9 1289.2,888.7 1287.3,887.3 1285.4,885.6 1283.5,883.5 1281.6,884.4 1279.7,895.7 1277.8,892.6 1275.9,884.1 1274.0,886.1 1272.1,882.8 1270.2,870.6 1268.3,883.8 1266.4,896.2 1264.5,892.7 1262.6,885.3 1260.7,887.2 1258.8,881.1 1256.9,880.7 1255.0,880.2 1253.1,896.2 1251.2,894.1 1249.3,886.3 1247.4,882.4 1245.5,882.7 1243.6,881.7 1241.7,881.5 1239.8,896.1 1237.9,892.6 1236.0,885.3 1234.1,883.0 1232.1,879.7 1230.2,879.7 1228.3,881.6 1226.4,896.3 1224.5,893.4 1222.6,883.9 1220.7,881.3 1218.8,882.6 1216.9,880.6 1215.0,879.9 1213.1,896.1 1211.2,893.5 1209.3,886.9 1207.4,881.2 1205.5,873.7 1203.6,865.9 1201.7,884.1 1199.8,896.0 1197.9,893.3 1196.0,883.3 1194.1,884.0 1192.2,880.9 1190.3,882.0 1188.4,882.4 1186.5,896.1 1184.6,894.2 1182.7,889.1 1180.8,887.6 1178.9,885.2 1177.0,877.5 1175.1,885.3 1173.2,896.3 1171.3,894.3 1169.4,890.5 1167.5,892.9 1165.6,894.6 1163.7,895.4 1161.8,896.1 1159.9,897.2 1158.0,896.8 1156.1,895.6 1154.2,895.2 1152.3,895.4 1150.4,893.5 1148.5,893.7 1146.6,896.9 1144.7,895.1 1142.8,889.3 1140.9,891.5 1139.0,884.6 1137.1,886.1 1135.2,887.9 1133.3,896.5 1131.4,894.6 1129.5,888.4 1127.6,889.6 1125.7,885.3 1123.8,880.1 1121.9,888.7 1120.0,896.4 1118.1,893.8 1116.2,889.7 1114.3,885.1 1112.4,883.5 1110.5,875.0 1108.6,885.4 1106.7,895.9 1104.8,893.8 1102.9,889.2 1101.0,885.2 1099.1,880.2 1097.2,875.4 1095.3,881.0 1093.4,895.6 1091.5,893.5 1089.6,887.9 1087.7,884.0 1085.8,874.0 1083.9,876.7 1082.0,881.2 1080.1,894.9 1078.2,892.7 1076.3,876.5 1074.4,877.1 1072.5,869.9 1070.6,857.3 1068.7,878.5 1066.7,894.9 1064.8,890.3 1062.9,876.0 1061.0,881.0 1059.1,860.6 1057.2,859.5 1055.3,872.3 1053.4,894.6 1051.5,891.6 1049.6,876.6 1047.7,872.3 1045.8,876.6 1043.9,857.8 1042.0,871.1 1040.1,895.3 1038.2,889.3 1036.3,877.6 1034.4,876.6 1032.5,878.5 1030.6,865.4 1028.7,876.4 1026.8,895.0 1024.9,891.1 1023.0,880.7 1021.1,871.5 1019.2,874.9 1017.3,872.9 1015.4,871.3 1013.5,894.4 1011.6,890.6 1009.7,875.3 1007.8,880.5 1005.9,870.9 1004.0,869.2 1002.1,880.1 1000.2,895.9 998.3,891.7 996.4,882.4 994.5,884.9 992.6,876.1 990.7,870.2 988.8,879.1 986.9,895.8 985.0,892.2 983.1,887.0 981.2,879.1 979.3,877.1 977.4,873.1 975.5,883.3 973.6,895.7 971.7,890.8 969.8,886.1 967.9,880.9 966.0,876.3 964.1,880.1 962.2,878.2 960.3,896.0 958.4,891.9 956.5,884.9 954.6,882.0 952.7,879.4 950.8,878.8 948.9,881.4 947.0,895.8 945.1,893.5 943.2,885.6 941.3,883.6 939.4,880.0 937.5,881.1 935.6,884.9 933.7,896.1 931.8,893.1 929.9,883.2 928.0,885.8 926.1,885.2 924.2,882.6 922.3,884.8 920.4,895.8 918.5,894.1 916.6,884.8 914.7,884.9 912.8,882.7 910.9,883.1 909.0,882.5 907.1,896.0 905.2,894.7 903.3,889.6 901.3,885.1 899.4,886.3 897.5,885.0 895.6,884.4 893.7,892.3 891.8,887.8 889.9,889.7 888.0,888.1 886.1,886.9 884.2,882.5 882.3,889.6 880.4,892.5 878.5,892.5 876.6,890.1 874.7,886.8 872.8,886.9 870.9,885.5 869.0,887.9 867.1,892.3 865.2,889.8 863.3,889.4 861.4,891.6 859.5,890.3 857.6,885.9 855.7,890.2 853.8,890.5 851.9,891.8 850.0,891.5 848.1,889.9 846.2,891.9 844.3,889.5 842.4,891.4 840.5,894.0 838.6,895.0 836.7,894.5 834.8,894.2 832.9,895.2 831.0,894.3 829.1,894.3 827.2,895.9 825.3,896.2 823.4,896.6 821.5,896.5 819.6,896.7" fill="#2a62a8" fill-opacity="0.6"/>
<polygon points="819.6,896.7 821.5,896.5 823.4,896.6 825.3,896.2 827.2,895.9 829.1,894.3 831.0,894.3 832.9,895.2 834.8,894.2 836.7,894.5 838.6,895.0 840.5,894.0 842.4,891.4 844.3,889.5 846.2,891.9 848.1,889.9 850.0,891.5 851.9,891.8 853.8,890.5 855.7,890.2 857.6,885.9 859.5,890.3 861.4,891.6 863.3,889.4 865.2,889.8 867.1,892.3 869.0,887.9 870.9,885.5 872.8,886.9 874.7,886.8 876.6,890.1 878.5,892.5 880.4,892.5 882.3,889.6 884.2,882.5 886.1,886.9 888.0,888.1 889.9,889.7 891.8,887.8 893.7,892.3 895.6,884.4 897.5,885.0 899.4,886.3 901.3,885.1 903.3,889.6 905.2,894.7 907.1,896.0 909.0,882.5 910.9,883.1 912.8,882.7 914.7,884.9 916.6,884.8 918.5,894.1 920.4,895.8 922.3,884.8 924.2,882.6 926.1,885.2 928.0,885.8 929.9,883.2 931.8,893.1 933.7,896.1 935.6,884.9 937.5,881.1 939.4,880.0 941.3,883.6 943.2,885.6 945.1,893.5 947.0,895.8 948.9,881.4 950.8,878.8 952.7,879.4 954.6,882.0 956.5,884.9 958.4,891.9 960.3,896.0 962.2,878.2 964.1,880.1 966.0,876.3 967.9,880.9 969.8,886.1 971.7,890.8 973.6,895.7 975.5,883.3 977.4,873.1 979.3,877.1 981.2,879.1 983.1,887.0 985.0,892.2 986.9,895.8 988.8,879.1 990.7,870.2 992.6,876.1 994.5,884.9 996.4,882.4 998.3,891.7 1000.2,895.9 1002.1,880.1 1004.0,869.2 1005.9,870.9 1007.8,880.5 1009.7,875.3 1011.6,890.6 1013.5,894.4 1015.4,871.3 1017.3,872.9 1019.2,874.9 1021.1,871.5 1023.0,880.7 1024.9,891.1 1026.8,895.0 1028.7,876.4 1030.6,865.4 1032.5,878.5 1034.4,876.6 1036.3,877.6 1038.2,889.3 1040.1,895.3 1042.0,871.1 1043.9,857.8 1045.8,876.6 1047.7,872.3 1049.6,876.6 1051.5,891.6 1053.4,894.6 1055.3,872.3 1057.2,859.5 1059.1,860.6 1061.0,881.0 1062.9,876.0 1064.8,890.3 1066.7,894.9 1068.7,878.5 1070.6,857.3 1072.5,869.9 1074.4,877.1 1076.3,876.5 1078.2,892.7 1080.1,894.9 1082.0,881.2 1083.9,876.7 1085.8,874.0 1087.7,884.0 1089.6,887.9 1091.5,893.5 1093.4,895.6 1095.3,881.0 1097.2,875.4 1099.1,880.2 1101.0,885.2 1102.9,889.2 1104.8,893.8 1106.7,895.9 1108.6,885.4 1110.5,875.0 1112.4,883.5 1114.3,885.1 1116.2,889.7 1118.1,893.8 1120.0,896.4 1121.9,888.7 1123.8,880.1 1125.7,885.3 1127.6,889.6 1129.5,888.4 1131.4,894.6 1133.3,896.5 1135.2,887.9 1137.1,886.1 1139.0,884.6 1140.9,891.5 1142.8,889.3 1144.7,895.1 1146.6,896.9 1148.5,893.7 1150.4,893.5 1152.3,895.4 1154.2,895.2 1156.1,895.6 1158.0,896.8 1159.9,897.2 1161.8,896.1 1163.7,895.4 1165.6,894.6 1167.5,892.9 1169.4,890.5 1171.3,894.3 1173.2,896.3 1175.1,885.3 1177.0,877.5 1178.9,885.2 1180.8,887.6 1182.7,889.1 1184.6,894.2 1186.5,896.1 1188.4,882.4 1190.3,882.0 1192.2,880.9 1194.1,884.0 1196.0,883.3 1197.9,893.3 1199.8,896.0 1201.7,884.1 1203.6,865.9 1205.5,873.7 1207.4,881.2 1209.3,886.9 1211.2,893.5 1213.1,896.1 1215.0,879.9 1216.9,880.6 1218.8,882.6 1220.7,881.3 1222.6,883.9 1224.5,893.4 1226.4,896.3 1228.3,881.6 1230.2,879.7 1232.1,879.7 1234.1,883.0 1236.0,885.3 1237.9,892.6 1239.8,896.1 1241.7,881.5 1243.6,881.7 1245.5,882.7 1247.4,882.4 1249.3,886.3 1251.2,894.1 1253.1,896.2 1255.0,880.2 1256.9,880.7 1258.8,881.1 1260.7,887.2 1262.6,885.3 1264.5,892.7 1266.4,896.2 1268.3,883.8 1270.2,870.6 1272.1,882.8 1274.0,886.1 1275.9,884.1 1277.8,892.6 1279.7,895.7 1281.6,884.4 1283.5,883.5 1285.4,885.6 1287.3,887.3 1289.2,888.7 1291.1,893.9 1293.0,895.6 1294.9,880.6 1296.8,875.1 1298.7,883.1 1300.6,886.9 1302.5,888.7 1304.4,894.2 1306.3,896.3 1308.2,883.1 1310.1,879.5 1312.0,882.8 1313.9,885.1 1315.8,886.8 1317.7,894.1 1319.6,896.0 1321.5,878.7 1323.4,873.1 1325.3,878.8 1327.2,883.6 1329.1,886.7 1331.0,892.6 1332.9,896.1 1334.8,881.2 1336.7,878.9 1338.6,882.6 1340.5,887.5 1342.4,888.6 1344.3,893.0 1346.2,896.0 1348.1,887.1 1350.0,876.1 1351.9,883.9 1353.8,879.6 1355.7,886.0 1357.6,893.7 1359.5,896.3 1361.4,884.2 1363.3,871.8 1365.2,886.0 1367.1,884.8 1369.0,889.0 1370.9,894.4 1372.8,896.1 1374.7,890.7 1376.6,885.9 1378.5,891.1 1380.4,891.7 1382.3,893.5 1384.2,895.7 1386.1,896.6 1388.0,891.5 1389.9,886.9 1391.8,889.1 1393.7,889.3 1395.6,890.4 1397.6,893.6 1399.5,896.1 1401.4,886.0 1403.3,869.0 1405.2,880.9 1407.1,882.9 1409.0,886.1 1410.9,893.4 1412.8,895.8 1414.7,883.8 1416.6,883.5 1418.5,886.0 1420.4,885.9 1422.3,885.7 1424.2,893.6 1426.1,895.8 1428.0,881.4 1429.9,878.9 1431.8,881.8 1433.7,885.3 1435.6,887.9 1437.5,893.8 1439.4,896.2 1441.3,881.8 1443.2,879.9 1445.1,882.6 1447.0,883.3 1448.9,885.3 1450.8,893.4 1452.7,896.0 1454.6,886.1 1456.5,877.3 1458.4,886.3 1460.3,884.6 1462.2,880.8 1464.1,894.0 1466.0,896.0 1467.9,886.3 1469.8,876.8 1471.7,885.7 1473.6,887.6 1475.5,889.0 1477.4,894.0 1479.3,895.8 1481.2,886.2 1483.1,881.0 1485.0,886.1 1486.9,882.2 1488.8,888.6 1490.7,893.6 1492.6,895.8 1494.5,883.4 1496.4,880.3 1498.3,882.3 1500.2,884.0 1502.1,884.8 1504.0,893.8 1505.9,896.1 1507.8,883.4 1509.7,878.1 1511.6,885.4 1513.5,885.5 1515.4,888.8 1517.3,894.2 1519.2,895.9 1521.1,882.0 1523.0,882.2 1524.9,885.9 1526.8,886.9 1528.7,887.3 1530.6,893.9 1532.5,896.0 1534.4,885.1 1536.3,876.2 1538.2,885.1 1540.1,883.3 1542.0,886.6 1543.9,892.6 1545.8,896.2 1547.7,887.9 1549.6,881.3 1551.5,881.6 1553.4,888.3 1555.3,888.9 1557.2,894.4 1559.1,896.2 1561.0,886.3 1563.0,875.3 1564.9,882.0 1566.8,883.5 1568.7,886.7 1570.6,893.2 1572.5,896.3 1574.4,884.6 1576.3,878.9 1578.2,883.2 1580.1,886.2 1582.0,886.1 1583.9,892.9 1585.8,895.7 1587.7,876.7 1589.6,880.9 1591.5,882.7 1593.4,885.9 1595.3,885.0 1597.2,893.3 1599.1,895.8 1601.0,885.8 1602.9,883.9 1604.8,886.5 1606.7,882.6 1608.6,884.5 1610.5,892.9 1612.4,896.2 1614.3,878.0 1616.2,876.6 1618.1,880.3 1620.0,886.7 1621.9,886.0 1623.8,894.4 1625.7,896.0 1627.6,887.8 1629.5,874.5 1631.4,881.7 1633.3,888.7 1635.2,889.2 1637.1,892.9 1639.0,896.3 1640.9,882.8 1642.8,878.0 1644.7,884.9 1646.6,888.6 1648.5,888.0 1650.4,893.4 1652.3,896.0 1654.2,886.9 1656.1,878.0 1658.0,879.3 1659.9,888.3 1661.8,887.8 1663.7,893.1 1665.6,895.8 1667.5,883.6 1669.4,884.3 1671.3,880.4 1673.2,883.4 1675.1,884.8 1677.0,893.7 1678.9,895.8 1680.8,881.2 1682.7,879.6 1684.6,880.6 1686.5,883.6 1688.4,884.6 1690.3,894.0 1692.2,895.9 1694.1,885.0 1696.0,874.3 1697.9,880.6 1699.8,881.7 1701.7,884.7 1703.6,892.7 1705.5,895.9 1707.4,882.8 1709.3,879.3 1711.2,883.2 1713.1,884.8 1715.0,888.3 1716.9,893.0 1718.8,896.3 1720.7,883.1 1722.6,875.3 1724.5,880.6 1726.4,888.4 1728.4,885.8 1730.3,894.2 1732.2,896.3 1734.1,886.1 1736.0,876.9 1737.9,885.0 1739.8,887.6 1741.7,884.6 1743.6,892.5 1745.5,896.3 1747.4,882.4 1749.3,881.1 1751.2,879.6 1753.1,886.2 1755.0,889.1 1756.9,893.2 1758.8,896.2 1760.7,879.9 1762.6,867.2 1764.5,872.2 1766.4,884.2 1768.3,888.1 1770.2,892.9 1772.1,895.7 1774.0,883.4 1775.9,880.4 1777.8,879.1 1779.7,882.8 1781.6,884.0 1783.5,893.0 1785.4,895.9 1787.3,885.6 1789.2,878.9 1791.1,882.1 1793.0,882.4 1794.9,887.0 1796.8,892.2 1798.7,896.0 1800.6,881.1 1802.5,882.4 1804.4,882.5 1806.3,886.2 1808.2,886.4 1810.1,894.0 1812.0,896.5 1813.9,886.8 1815.8,882.2 1817.7,887.8 1819.6,889.8 1821.5,891.6 1823.4,894.5 1825.3,896.4 1827.2,888.4 1829.1,887.4 1831.0,890.6 1832.9,890.5 1834.8,892.2 1836.7,895.9 1838.6,897.1 1840.5,897.3 1842.4,897.3 1844.3,897.3 1846.2,897.3 1848.1,897.3 1850.0,897.3 1851.9,897.3 1853.8,897.3 1855.7,897.3 1857.6,885.8 1859.5,885.1 1861.4,883.5 1863.3,893.5 1865.2,895.7 1867.1,880.1 1869.0,878.2 1870.9,877.4 1872.8,885.3 1874.7,883.8 1876.6,892.3 1878.5,895.8 1880.4,874.9 1882.3,877.5 1884.2,879.0 1886.1,884.6 1888.0,886.5 1889.9,892.2 1891.8,896.0 1893.8,885.9 1895.7,872.9 1897.6,877.4 1899.5,884.9 1901.4,883.1 1903.3,892.9 1905.2,896.0 1907.1,884.2 1909.0,881.9 1910.9,880.8 1912.8,884.7 1914.7,885.6 1916.6,891.8 1918.5,896.2 1920.4,880.5 1922.3,881.3 1924.2,884.2 1926.1,885.3 1928.0,886.4 1929.9,894.1 1931.8,895.8 1933.7,883.1 1935.6,877.2 1937.5,884.8 1939.4,887.1 1941.3,885.1 1943.2,892.3 1945.1,896.0 1947.0,886.2 1948.9,878.1 1950.8,880.7 1952.7,882.7 1954.6,887.0 1956.5,892.7 1958.4,895.6 1960.3,881.3 1962.2,877.7 1964.1,882.7 1966.0,879.7 1967.9,883.2 1969.8,893.3 1971.7,896.1 1973.6,881.7 1975.5,882.0 1975.5,892.6 1973.6,893.8 1971.7,897.0 1969.8,896.3 1967.9,894.1 1966.0,892.5 1964.1,892.6 1962.2,892.6 1960.3,893.4 1958.4,896.9 1956.5,895.8 1954.6,894.2 1952.7,892.6 1950.8,892.9 1948.9,893.1 1947.0,894.2 1945.1,897.0 1943.2,896.0 1941.3,894.6 1939.4,894.5 1937.5,893.5 1935.6,891.7 1933.7,893.8 1931.8,896.9 1929.9,896.5 1928.0,894.6 1926.1,893.8 1924.2,893.5 1922.3,892.9 1920.4,892.0 1918.5,897.0 1916.6,895.6 1914.7,894.5 1912.8,893.1 1910.9,891.9 1909.0,893.2 1907.1,893.4 1905.2,897.0 1903.3,896.1 1901.4,893.3 1899.5,893.8 1897.6,892.0 1895.7,889.6 1893.8,894.0 1891.8,897.0 1889.9,895.7 1888.0,894.4 1886.1,893.4 1884.2,892.0 1882.3,891.6 1880.4,890.4 1878.5,896.8 1876.6,895.9 1874.7,893.1 1872.8,893.8 1870.9,892.5 1869.0,892.8 1867.1,893.4 1865.2,896.9 1863.3,896.0 1861.4,893.3 1859.5,894.6 1857.6,894.4 1855.7,897.3 1853.8,897.3 1851.9,897.3 1850.0,897.3 1848.1,897.3 1846.2,897.3 1844.3,897.3 1842.4,897.3 1840.5,897.3 1838.6,897.3 1836.7,896.9 1834.8,895.5 1832.9,894.9 1831.0,895.6 1829.1,894.1 1827.2,894.7 1825.3,897.1 1823.4,896.2 1821.5,895.4 1819.6,894.4 1817.7,893.5 1815.8,891.2 1813.9,894.1 1812.0,897.0 1810.1,896.1 1808.2,894.0 1806.3,892.7 1804.4,892.7 1802.5,892.6 1800.6,891.7 1798.7,896.8 1796.8,895.2 1794.9,893.8 1793.0,891.5 1791.1,891.9 1789.2,891.0 1787.3,892.4 1785.4,896.6 1783.5,895.7 1781.6,890.1 1779.7,889.6 1777.8,889.4 1775.9,888.3 1774.0,889.8 1772.1,896.4 1770.2,895.3 1768.3,891.4 1766.4,889.0 1764.5,881.2 1762.6,878.2 1760.7,888.8 1758.8,896.7 1756.9,895.0 1755.0,891.8 1753.1,891.4 1751.2,887.5 1749.3,888.3 1747.4,888.9 1745.5,896.7 1743.6,894.1 1741.7,888.7 1739.8,891.6 1737.9,887.1 1736.0,885.4 1734.1,888.5 1732.2,896.6 1730.3,895.1 1728.4,888.3 1726.4,889.8 1724.5,883.8 1722.6,878.2 1720.7,887.6 1718.8,896.4 1716.9,894.2 1715.0,890.0 1713.1,889.3 1711.2,884.8 1709.3,883.3 1707.4,887.6 1705.5,896.1 1703.6,893.9 1701.7,887.5 1699.8,887.8 1697.9,884.1 1696.0,882.7 1694.1,889.4 1692.2,896.3 1690.3,895.1 1688.4,887.8 1686.5,886.6 1684.6,886.8 1682.7,885.3 1680.8,884.5 1678.9,896.3 1677.0,895.0 1675.1,887.1 1673.2,886.4 1671.3,886.9 1669.4,887.7 1667.5,885.5 1665.6,896.2 1663.7,894.4 1661.8,888.7 1659.9,889.9 1658.0,883.3 1656.1,883.3 1654.2,889.8 1652.3,896.3 1650.4,894.9 1648.5,891.2 1646.6,889.8 1644.7,887.0 1642.8,882.9 1640.9,885.2 1639.0,896.7 1637.1,894.3 1635.2,892.1 1633.3,891.8 1631.4,887.2 1629.5,880.6 1627.6,889.8 1625.7,896.1 1623.8,895.4 1621.9,890.3 1620.0,889.9 1618.1,884.1 1616.2,880.5 1614.3,884.6 1612.4,896.4 1610.5,893.8 1608.6,887.1 1606.7,885.4 1604.8,890.8 1602.9,885.5 1601.0,888.1 1599.1,896.3 1597.2,893.7 1595.3,887.9 1593.4,887.5 1591.5,887.6 1589.6,885.5 1587.7,880.2 1585.8,896.1 1583.9,893.4 1582.0,890.5 1580.1,887.3 1578.2,885.8 1576.3,886.2 1574.4,887.7 1572.5,896.5 1570.6,894.5 1568.7,889.4 1566.8,888.2 1564.9,884.9 1563.0,882.9 1561.0,889.5 1559.1,896.6 1557.2,894.7 1555.3,890.6 1553.4,889.3 1551.5,883.2 1549.6,885.5 1547.7,890.8 1545.8,896.5 1543.9,894.1 1542.0,888.0 1540.1,886.8 1538.2,888.6 1536.3,881.5 1534.4,889.5 1532.5,896.4 1530.6,894.5 1528.7,890.2 1526.8,891.0 1524.9,889.2 1523.0,886.3 1521.1,886.1 1519.2,896.2 1517.3,894.9 1515.4,889.7 1513.5,890.1 1511.6,887.2 1509.7,881.6 1507.8,887.1 1505.9,896.3 1504.0,894.5 1502.1,887.2 1500.2,886.0 1498.3,886.3 1496.4,882.1 1494.5,888.3 1492.6,896.1 1490.7,895.0 1488.8,891.8 1486.9,884.7 1485.0,890.2 1483.1,882.5 1481.2,888.8 1479.3,896.3 1477.4,895.0 1475.5,890.0 1473.6,889.1 1471.7,887.8 1469.8,882.7 1467.9,888.8 1466.0,896.4 1464.1,895.0 1462.2,882.7 1460.3,888.0 1458.4,888.2 1456.5,884.6 1454.6,889.5 1452.7,896.4 1450.8,893.9 1448.9,890.1 1447.0,888.9 1445.1,884.4 1443.2,885.0 1441.3,887.9 1439.4,896.3 1437.5,894.4 1435.6,891.6 1433.7,887.2 1431.8,884.9 1429.9,881.3 1428.0,887.2 1426.1,896.3 1424.2,894.1 1422.3,890.1 1420.4,887.9 1418.5,889.3 1416.6,888.4 1414.7,888.3 1412.8,896.2 1410.9,893.9 1409.0,888.2 1407.1,887.6 1405.2,883.6 1403.3,877.9 1401.4,887.1 1399.5,896.3 1397.6,894.7 1395.6,891.6 1393.7,891.9 1391.8,890.4 1389.9,891.0 1388.0,893.7 1386.1,896.7 1384.2,896.0 1382.3,893.9 1380.4,893.8 1378.5,893.5 1376.6,887.1 1374.7,892.1 1372.8,896.4 1370.9,895.0 1369.0,891.7 1367.1,887.3 1365.2,889.7 1363.3,882.0 1361.4,888.9 1359.5,896.5 1357.6,895.2 1355.7,888.4 1353.8,882.0 1351.9,887.3 1350.0,877.8 1348.1,889.1 1346.2,896.3 1344.3,894.2 1342.4,891.8 1340.5,889.3 1338.6,888.3 1336.7,885.1 1334.8,883.4 1332.9,896.3 1331.0,893.1 1329.1,887.8 1327.2,888.2 1325.3,881.1 1323.4,878.9 1321.5,881.7 1319.6,896.3 1317.7,894.9 1315.8,889.4 1313.9,887.0 1312.0,888.5 1310.1,884.2 1308.2,886.0 1306.3,896.5 1304.4,894.9 1302.5,890.2 1300.6,889.3 1298.7,885.0 1296.8,878.4 1294.9,882.4 1293.0,896.0 1291.1,895.1 1289.2,890.0 1287.3,889.6 1285.4,888.9 1283.5,886.2 1281.6,887.6 1279.7,896.1 1277.8,894.2 1275.9,887.8 1274.0,889.3 1272.1,887.2 1270.2,879.9 1268.3,887.5 1266.4,896.3 1264.5,894.3 1262.6,890.0 1260.7,890.4 1258.8,886.5 1256.9,882.3 1255.0,882.3 1253.1,896.3 1251.2,895.1 1249.3,887.7 1247.4,883.6 1245.5,886.2 1243.6,885.0 1241.7,886.6 1239.8,896.4 1237.9,894.3 1236.0,887.2 1234.1,887.6 1232.1,886.2 1230.2,881.8 1228.3,887.7 1226.4,896.6 1224.5,894.5 1222.6,886.7 1220.7,883.6 1218.8,886.5 1216.9,882.1 1215.0,881.6 1213.1,896.6 1211.2,894.2 1209.3,887.9 1207.4,883.8 1205.5,882.9 1203.6,874.4 1201.7,888.5 1199.8,896.5 1197.9,894.0 1196.0,885.0 1194.1,888.6 1192.2,886.3 1190.3,885.6 1188.4,885.3 1186.5,896.4 1184.6,895.6 1182.7,892.7 1180.8,890.8 1178.9,889.8 1177.0,886.7 1175.1,888.8 1173.2,896.7 1171.3,895.8 1169.4,894.9 1167.5,895.6 1165.6,896.3 1163.7,896.6 1161.8,896.7 1159.9,897.2 1158.0,897.1 1156.1,896.7 1154.2,896.6 1152.3,896.6 1150.4,895.8 1148.5,895.6 1146.6,897.2 1144.7,896.3 1142.8,894.3 1140.9,894.7 1139.0,891.6 1137.1,893.1 1135.2,893.1 1133.3,896.9 1131.4,896.3 1129.5,894.0 1127.6,894.2 1125.7,893.0 1123.8,890.8 1121.9,894.0 1120.0,897.0 1118.1,896.1 1116.2,893.8 1114.3,892.7 1112.4,892.5 1110.5,888.0 1108.6,892.0 1106.7,896.7 1104.8,896.2 1102.9,894.6 1101.0,893.5 1099.1,891.3 1097.2,889.5 1095.3,890.1 1093.4,896.8 1091.5,896.0 1089.6,893.9 1087.7,892.4 1085.8,887.2 1083.9,888.2 1082.0,892.1 1080.1,896.4 1078.2,895.6 1076.3,888.1 1074.4,890.0 1072.5,886.5 1070.6,884.4 1068.7,889.8 1066.7,896.4 1064.8,894.5 1062.9,889.6 1061.0,890.8 1059.1,882.7 1057.2,883.6 1055.3,888.3 1053.4,896.3 1051.5,895.4 1049.6,890.7 1047.7,888.0 1045.8,889.9 1043.9,881.8 1042.0,889.8 1040.1,896.4 1038.2,894.0 1036.3,889.6 1034.4,890.6 1032.5,891.8 1030.6,887.5 1028.7,891.5 1026.8,896.6 1024.9,894.7 1023.0,892.3 1021.1,889.1 1019.2,890.9 1017.3,890.4 1015.4,888.6 1013.5,896.4 1011.6,895.0 1009.7,889.7 1007.8,890.4 1005.9,887.3 1004.0,888.3 1002.1,890.8 1000.2,896.9 998.3,895.6 996.4,892.7 994.5,893.1 992.6,891.4 990.7,889.8 988.8,892.2 986.9,896.9 985.0,895.3 983.1,894.1 981.2,892.2 979.3,891.7 977.4,890.8 975.5,892.2 973.6,896.8 971.7,894.8 969.8,893.7 967.9,890.9 966.0,891.3 964.1,892.6 962.2,891.9 960.3,896.8 958.4,895.2 956.5,893.2 954.6,892.2 952.7,890.3 950.8,890.5 948.9,892.9 947.0,896.8 945.1,896.1 943.2,894.2 941.3,892.7 939.4,891.8 937.5,892.3 935.6,893.6 933.7,897.0 931.8,895.7 929.9,892.6 928.0,894.1 926.1,892.6 924.2,891.7 922.3,892.9 920.4,896.7 918.5,896.1 916.6,892.8 914.7,894.0 912.8,891.9 910.9,893.3 909.0,891.6 907.1,896.8 905.2,896.5 903.3,895.0 901.3,892.8 899.4,893.3 897.5,893.3 895.6,893.6 893.7,895.7 891.8,894.2 889.9,894.5 888.0,894.9 886.1,893.5 884.2,893.1 882.3,895.3 880.4,896.1 878.5,896.0 876.6,895.4 874.7,893.5 872.8,893.8 870.9,892.9 869.0,895.0 867.1,895.9 865.2,894.5 863.3,895.1 861.4,895.5 859.5,895.2 857.6,894.4 855.7,895.5 853.8,894.9 851.9,895.9 850.0,895.2 848.1,894.8 846.2,895.5 844.3,895.2 842.4,895.1 840.5,896.3 838.6,896.5 836.7,896.5 834.8,896.5 832.9,896.6 831.0,896.5 829.1,896.2 827.2,896.9 825.3,897.0 823.4,897.1 821.5,897.1 819.6,897.1" fill="#8a1f45" fill-opacity="0.48"/>
<polygon points="819.6,897.1 821.5,897.1 823.4,897.1 825.3,897.0 827.2,896.9 829.1,896.2 831.0,896.5 832.9,896.6 834.8,896.5 836.7,896.5 838.6,896.5 840.5,896.3 842.4,895.1 844.3,895.2 846.2,895.5 848.1,894.8 850.0,895.2 851.9,895.9 853.8,894.9 855.7,895.5 857.6,894.4 859.5,895.2 861.4,895.5 863.3,895.1 865.2,894.5 867.1,895.9 869.0,895.0 870.9,892.9 872.8,893.8 874.7,893.5 876.6,895.4 878.5,896.0 880.4,896.1 882.3,895.3 884.2,893.1 886.1,893.5 888.0,894.9 889.9,894.5 891.8,894.2 893.7,895.7 895.6,893.6 897.5,893.3 899.4,893.3 901.3,892.8 903.3,895.0 905.2,896.5 907.1,896.8 909.0,891.6 910.9,893.3 912.8,891.9 914.7,894.0 916.6,892.8 918.5,896.1 920.4,896.7 922.3,892.9 924.2,891.7 926.1,892.6 928.0,894.1 929.9,892.6 931.8,895.7 933.7,897.0 935.6,893.6 937.5,892.3 939.4,891.8 941.3,892.7 943.2,894.2 945.1,896.1 947.0,896.8 948.9,892.9 950.8,890.5 952.7,890.3 954.6,892.2 956.5,893.2 958.4,895.2 960.3,896.8 962.2,891.9 964.1,892.6 966.0,891.3 967.9,890.9 969.8,893.7 971.7,894.8 973.6,896.8 975.5,892.2 977.4,890.8 979.3,891.7 981.2,892.2 983.1,894.1 985.0,895.3 986.9,896.9 988.8,892.2 990.7,889.8 992.6,891.4 994.5,893.1 996.4,892.7 998.3,895.6 1000.2,896.9 1002.1,890.8 1004.0,888.3 1005.9,887.3 1007.8,890.4 1009.7,889.7 1011.6,895.0 1013.5,896.4 1015.4,888.6 1017.3,890.4 1019.2,890.9 1021.1,889.1 1023.0,892.3 1024.9,894.7 1026.8,896.6 1028.7,891.5 1030.6,887.5 1032.5,891.8 1034.4,890.6 1036.3,889.6 1038.2,894.0 1040.1,896.4 1042.0,889.8 1043.9,881.8 1045.8,889.9 1047.7,888.0 1049.6,890.7 1051.5,895.4 1053.4,896.3 1055.3,888.3 1057.2,883.6 1059.1,882.7 1061.0,890.8 1062.9,889.6 1064.8,894.5 1066.7,896.4 1068.7,889.8 1070.6,884.4 1072.5,886.5 1074.4,890.0 1076.3,888.1 1078.2,895.6 1080.1,896.4 1082.0,892.1 1083.9,888.2 1085.8,887.2 1087.7,892.4 1089.6,893.9 1091.5,896.0 1093.4,896.8 1095.3,890.1 1097.2,889.5 1099.1,891.3 1101.0,893.5 1102.9,894.6 1104.8,896.2 1106.7,896.7 1108.6,892.0 1110.5,888.0 1112.4,892.5 1114.3,892.7 1116.2,893.8 1118.1,896.1 1120.0,897.0 1121.9,894.0 1123.8,890.8 1125.7,893.0 1127.6,894.2 1129.5,894.0 1131.4,896.3 1133.3,896.9 1135.2,893.1 1137.1,893.1 1139.0,891.6 1140.9,894.7 1142.8,894.3 1144.7,896.3 1146.6,897.2 1148.5,895.6 1150.4,895.8 1152.3,896.6 1154.2,896.6 1156.1,896.7 1158.0,897.1 1159.9,897.2 1161.8,896.7 1163.7,896.6 1165.6,896.3 1167.5,895.6 1169.4,894.9 1171.3,895.8 1173.2,896.7 1175.1,888.8 1177.0,886.7 1178.9,889.8 1180.8,890.8 1182.7,892.7 1184.6,895.6 1186.5,896.4 1188.4,885.3 1190.3,885.6 1192.2,886.3 1194.1,888.6 1196.0,885.0 1197.9,894.0 1199.8,896.5 1201.7,888.5 1203.6,874.4 1205.5,882.9 1207.4,883.8 1209.3,887.9 1211.2,894.2 1213.1,896.6 1215.0,881.6 1216.9,882.1 1218.8,886.5 1220.7,883.6 1222.6,886.7 1224.5,894.5 1226.4,896.6 1228.3,887.7 1230.2,881.8 1232.1,886.2 1234.1,887.6 1236.0,887.2 1237.9,894.3 1239.8,896.4 1241.7,886.6 1243.6,885.0 1245.5,886.2 1247.4,883.6 1249.3,887.7 1251.2,895.1 1253.1,896.3 1255.0,882.3 1256.9,882.3 1258.8,886.5 1260.7,890.4 1262.6,890.0 1264.5,894.3 1266.4,896.3 1268.3,887.5 1270.2,879.9 1272.1,887.2 1274.0,889.3 1275.9,887.8 1277.8,894.2 1279.7,896.1 1281.6,887.6 1283.5,886.2 1285.4,888.9 1287.3,889.6 1289.2,890.0 1291.1,895.1 1293.0,896.0 1294.9,882.4 1296.8,878.4 1298.7,885.0 1300.6,889.3 1302.5,890.2 1304.4,894.9 1306.3,896.5 1308.2,886.0 1310.1,884.2 1312.0,888.5 1313.9,887.0 1315.8,889.4 1317.7,894.9 1319.6,896.3 1321.5,881.7 1323.4,878.9 1325.3,881.1 1327.2,888.2 1329.1,887.8 1331.0,893.1 1332.9,896.3 1334.8,883.4 1336.7,885.1 1338.6,888.3 1340.5,889.3 1342.4,891.8 1344.3,894.2 1346.2,896.3 1348.1,889.1 1350.0,877.8 1351.9,887.3 1353.8,882.0 1355.7,888.4 1357.6,895.2 1359.5,896.5 1361.4,888.9 1363.3,882.0 1365.2,889.7 1367.1,887.3 1369.0,891.7 1370.9,895.0 1372.8,896.4 1374.7,892.1 1376.6,887.1 1378.5,893.5 1380.4,893.8 1382.3,893.9 1384.2,896.0 1386.1,896.7 1388.0,893.7 1389.9,891.0 1391.8,890.4 1393.7,891.9 1395.6,891.6 1397.6,894.7 1399.5,896.3 1401.4,887.1 1403.3,877.9 1405.2,883.6 1407.1,887.6 1409.0,888.2 1410.9,893.9 1412.8,896.2 1414.7,888.3 1416.6,888.4 1418.5,889.3 1420.4,887.9 1422.3,890.1 1424.2,894.1 1426.1,896.3 1428.0,887.2 1429.9,881.3 1431.8,884.9 1433.7,887.2 1435.6,891.6 1437.5,894.4 1439.4,896.3 1441.3,887.9 1443.2,885.0 1445.1,884.4 1447.0,888.9 1448.9,890.1 1450.8,893.9 1452.7,896.4 1454.6,889.5 1456.5,884.6 1458.4,888.2 1460.3,888.0 1462.2,882.7 1464.1,895.0 1466.0,896.4 1467.9,888.8 1469.8,882.7 1471.7,887.8 1473.6,889.1 1475.5,890.0 1477.4,895.0 1479.3,896.3 1481.2,888.8 1483.1,882.5 1485.0,890.2 1486.9,884.7 1488.8,891.8 1490.7,895.0 1492.6,896.1 1494.5,888.3 1496.4,882.1 1498.3,886.3 1500.2,886.0 1502.1,887.2 1504.0,894.5 1505.9,896.3 1507.8,887.1 1509.7,881.6 1511.6,887.2 1513.5,890.1 1515.4,889.7 1517.3,894.9 1519.2,896.2 1521.1,886.1 1523.0,886.3 1524.9,889.2 1526.8,891.0 1528.7,890.2 1530.6,894.5 1532.5,896.4 1534.4,889.5 1536.3,881.5 1538.2,888.6 1540.1,886.8 1542.0,888.0 1543.9,894.1 1545.8,896.5 1547.7,890.8 1549.6,885.5 1551.5,883.2 1553.4,889.3 1555.3,890.6 1557.2,894.7 1559.1,896.6 1561.0,889.5 1563.0,882.9 1564.9,884.9 1566.8,888.2 1568.7,889.4 1570.6,894.5 1572.5,896.5 1574.4,887.7 1576.3,886.2 1578.2,885.8 1580.1,887.3 1582.0,890.5 1583.9,893.4 1585.8,896.1 1587.7,880.2 1589.6,885.5 1591.5,887.6 1593.4,887.5 1595.3,887.9 1597.2,893.7 1599.1,896.3 1601.0,888.1 1602.9,885.5 1604.8,890.8 1606.7,885.4 1608.6,887.1 1610.5,893.8 1612.4,896.4 1614.3,884.6 1616.2,880.5 1618.1,884.1 1620.0,889.9 1621.9,890.3 1623.8,895.4 1625.7,896.1 1627.6,889.8 1629.5,880.6 1631.4,887.2 1633.3,891.8 1635.2,892.1 1637.1,894.3 1639.0,896.7 1640.9,885.2 1642.8,882.9 1644.7,887.0 1646.6,889.8 1648.5,891.2 1650.4,894.9 1652.3,896.3 1654.2,889.8 1656.1,883.3 1658.0,883.3 1659.9,889.9 1661.8,888.7 1663.7,894.4 1665.6,896.2 1667.5,885.5 1669.4,887.7 1671.3,886.9 1673.2,886.4 1675.1,887.1 1677.0,895.0 1678.9,896.3 1680.8,884.5 1682.7,885.3 1684.6,886.8 1686.5,886.6 1688.4,887.8 1690.3,895.1 1692.2,896.3 1694.1,889.4 1696.0,882.7 1697.9,884.1 1699.8,887.8 1701.7,887.5 1703.6,893.9 1705.5,896.1 1707.4,887.6 1709.3,883.3 1711.2,884.8 1713.1,889.3 1715.0,890.0 1716.9,894.2 1718.8,896.4 1720.7,887.6 1722.6,878.2 1724.5,883.8 1726.4,889.8 1728.4,888.3 1730.3,895.1 1732.2,896.6 1734.1,888.5 1736.0,885.4 1737.9,887.1 1739.8,891.6 1741.7,888.7 1743.6,894.1 1745.5,896.7 1747.4,888.9 1749.3,888.3 1751.2,887.5 1753.1,891.4 1755.0,891.8 1756.9,895.0 1758.8,896.7 1760.7,888.8 1762.6,878.2 1764.5,881.2 1766.4,889.0 1768.3,891.4 1770.2,895.3 1772.1,896.4 1774.0,889.8 1775.9,888.3 1777.8,889.4 1779.7,889.6 1781.6,890.1 1783.5,895.7 1785.4,896.6 1787.3,892.4 1789.2,891.0 1791.1,891.9 1793.0,891.5 1794.9,893.8 1796.8,895.2 1798.7,896.8 1800.6,891.7 1802.5,892.6 1804.4,892.7 1806.3,892.7 1808.2,894.0 1810.1,896.1 1812.0,897.0 1813.9,894.1 1815.8,891.2 1817.7,893.5 1819.6,894.4 1821.5,895.4 1823.4,896.2 1825.3,897.1 1827.2,894.7 1829.1,894.1 1831.0,895.6 1832.9,894.9 1834.8,895.5 1836.7,896.9 1838.6,897.3 1840.5,897.3 1842.4,897.3 1844.3,897.3 1846.2,897.3 1848.1,897.3 1850.0,897.3 1851.9,897.3 1853.8,897.3 1855.7,897.3 1857.6,894.4 1859.5,894.6 1861.4,893.3 1863.3,896.0 1865.2,896.9 1867.1,893.4 1869.0,892.8 1870.9,892.5 1872.8,893.8 1874.7,893.1 1876.6,895.9 1878.5,896.8 1880.4,890.4 1882.3,891.6 1884.2,892.0 1886.1,893.4 1888.0,894.4 1889.9,895.7 1891.8,897.0 1893.8,894.0 1895.7,889.6 1897.6,892.0 1899.5,893.8 1901.4,893.3 1903.3,896.1 1905.2,897.0 1907.1,893.4 1909.0,893.2 1910.9,891.9 1912.8,893.1 1914.7,894.5 1916.6,895.6 1918.5,897.0 1920.4,892.0 1922.3,892.9 1924.2,893.5 1926.1,893.8 1928.0,894.6 1929.9,896.5 1931.8,896.9 1933.7,893.8 1935.6,891.7 1937.5,893.5 1939.4,894.5 1941.3,894.6 1943.2,896.0 1945.1,897.0 1947.0,894.2 1948.9,893.1 1950.8,892.9 1952.7,892.6 1954.6,894.2 1956.5,895.8 1958.4,896.9 1960.3,893.4 1962.2,892.6 1964.1,892.6 1966.0,892.5 1967.9,894.1 1969.8,896.3 1971.7,897.0 1973.6,893.8 1975.5,892.6 1975.5,897.3 819.6,897.3" fill="#3a7a2a" fill-opacity="0.36"/>
<text x="1159" y="893" font-size="15" font-weight="bold" fill="#a09ea6" fill-opacity="0.8" letter-spacing="0.3">Янв '24</text>
<text x="1502" y="893" font-size="15" font-weight="bold" fill="#a09ea6" fill-opacity="0.8" letter-spacing="0.3">Июл '24</text>
<text x="1849" y="893" font-size="15" font-weight="bold" fill="#a09ea6" fill-opacity="0.8" letter-spacing="0.3">Янв '25</text>
<polyline points="819.6,896.7 821.5,896.5 823.4,896.6 825.3,896.2 827.2,895.9 829.1,894.3 831.0,894.3 832.9,895.2 834.8,894.2 836.7,894.5 838.6,895.0 840.5,894.0 842.4,891.4 844.3,889.5 846.2,891.9 848.1,889.9 850.0,891.5 851.9,891.8 853.8,890.5 855.7,890.2 857.6,885.9 859.5,890.3 861.4,891.6 863.3,889.4 865.2,889.8 867.1,892.3 869.0,887.9 870.9,885.5 872.8,886.9 874.7,886.8 876.6,890.1 878.5,892.5 880.4,892.5 882.3,889.6 884.2,882.5 886.1,886.9 888.0,888.1 889.9,889.7 891.8,887.8 893.7,892.3 895.6,884.4 897.5,885.0 899.4,886.3 901.3,885.1 903.3,889.6 905.2,894.7 907.1,896.0 909.0,882.5 910.9,883.1 912.8,882.7 914.7,884.9 916.6,884.8 918.5,894.1 920.4,895.8 922.3,884.8 924.2,882.6 926.1,885.2 928.0,885.8 929.9,883.2 931.8,893.1 933.7,896.1 935.6,884.9 937.5,881.1 939.4,880.0 941.3,883.6 943.2,885.6 945.1,893.5 947.0,895.8 948.9,881.4 950.8,878.8 952.7,879.4 954.6,882.0 956.5,884.9 958.4,891.9 960.3,896.0 962.2,878.2 964.1,880.1 966.0,876.3 967.9,880.9 969.8,886.1 971.7,890.8 973.6,895.7 975.5,883.3 977.4,873.1 979.3,877.1 981.2,879.1 983.1,887.0 985.0,892.2 986.9,895.8 988.8,879.1 990.7,870.2 992.6,876.1 994.5,884.9 996.4,882.4 998.3,891.7 1000.2,895.9 1002.1,880.1 1004.0,869.2 1005.9,870.9 1007.8,880.5 1009.7,875.3 1011.6,890.6 1013.5,894.4 1015.4,871.3 1017.3,872.9 1019.2,874.9 1021.1,871.5 1023.0,880.7 1024.9,891.1 1026.8,895.0 1028.7,876.4 1030.6,865.4 1032.5,878.5 1034.4,876.6 1036.3,877.6 1038.2,889.3 1040.1,895.3 1042.0,871.1 1043.9,857.8 1045.8,876.6 1047.7,872.3 1049.6,876.6 1051.5,891.6 1053.4,894.6 1055.3,872.3 1057.2,859.5 1059.1,860.6 1061.0,881.0 1062.9,876.0 1064.8,890.3 1066.7,894.9 1068.7,878.5 1070.6,857.3 1072.5,869.9 1074.4,877.1 1076.3,876.5 1078.2,892.7 1080.1,894.9 1082.0,881.2 1083.9,876.7 1085.8,874.0 1087.7,884.0 1089.6,887.9 1091.5,893.5 1093.4,895.6 1095.3,881.0 1097.2,875.4 1099.1,880.2 1101.0,885.2 1102.9,889.2 1104.8,893.8 1106.7,895.9 1108.6,885.4 1110.5,875.0 1112.4,883.5 1114.3,885.1 1116.2,889.7 1118.1,893.8 1120.0,896.4 1121.9,888.7 1123.8,880.1 1125.7,885.3 1127.6,889.6 1129.5,888.4 1131.4,894.6 1133.3,896.5 1135.2,887.9 1137.1,886.1 1139.0,884.6 1140.9,891.5 1142.8,889.3 1144.7,895.1 1146.6,896.9 1148.5,893.7 1150.4,893.5 1152.3,895.4 1154.2,895.2 1156.1,895.6 1158.0,896.8 1159.9,897.2 1161.8,896.1 1163.7,895.4 1165.6,894.6 1167.5,892.9 1169.4,890.5 1171.3,894.3 1173.2,896.3 1175.1,885.3 1177.0,877.5 1178.9,885.2 1180.8,887.6 1182.7,889.1 1184.6,894.2 1186.5,896.1 1188.4,882.4 1190.3,882.0 1192.2,880.9 1194.1,884.0 1196.0,883.3 1197.9,893.3 1199.8,896.0 1201.7,884.1 1203.6,865.9 1205.5,873.7 1207.4,881.2 1209.3,886.9 1211.2,893.5 1213.1,896.1 1215.0,879.9 1216.9,880.6 1218.8,882.6 1220.7,881.3 1222.6,883.9 1224.5,893.4 1226.4,896.3 1228.3,881.6 1230.2,879.7 1232.1,879.7 1234.1,883.0 1236.0,885.3 1237.9,892.6 1239.8,896.1 1241.7,881.5 1243.6,881.7 1245.5,882.7 1247.4,882.4 1249.3,886.3 1251.2,894.1 1253.1,896.2 1255.0,880.2 1256.9,880.7 1258.8,881.1 1260.7,887.2 1262.6,885.3 1264.5,892.7 1266.4,896.2 1268.3,883.8 1270.2,870.6 1272.1,882.8 1274.0,886.1 1275.9,884.1 1277.8,892.6 1279.7,895.7 1281.6,884.4 1283.5,883.5 1285.4,885.6 1287.3,887.3 1289.2,888.7 1291.1,893.9 1293.0,895.6 1294.9,880.6 1296.8,875.1 1298.7,883.1 1300.6,886.9 1302.5,888.7 1304.4,894.2 1306.3,896.3 1308.2,883.1 1310.1,879.5 1312.0,882.8 1313.9,885.1 1315.8,886.8 1317.7,894.1 1319.6,896.0 1321.5,878.7 1323.4,873.1 1325.3,878.8 1327.2,883.6 1329.1,886.7 1331.0,892.6 1332.9,896.1 1334.8,881.2 1336.7,878.9 1338.6,882.6 1340.5,887.5 1342.4,888.6 1344.3,893.0 1346.2,896.0 1348.1,887.1 1350.0,876.1 1351.9,883.9 1353.8,879.6 1355.7,886.0 1357.6,893.7 1359.5,896.3 1361.4,884.2 1363.3,871.8 1365.2,886.0 1367.1,884.8 1369.0,889.0 1370.9,894.4 1372.8,896.1 1374.7,890.7 1376.6,885.9 1378.5,891.1 1380.4,891.7 1382.3,893.5 1384.2,895.7 1386.1,896.6 1388.0,891.5 1389.9,886.9 1391.8,889.1 1393.7,889.3 1395.6,890.4 1397.6,893.6 1399.5,896.1 1401.4,886.0 1403.3,869.0 1405.2,880.9 1407.1,882.9 1409.0,886.1 1410.9,893.4 1412.8,895.8 1414.7,883.8 1416.6,883.5 1418.5,886.0 1420.4,885.9 1422.3,885.7 1424.2,893.6 1426.1,895.8 1428.0,881.4 1429.9,878.9 1431.8,881.8 1433.7,885.3 1435.6,887.9 1437.5,893.8 1439.4,896.2 1441.3,881.8 1443.2,879.9 1445.1,882.6 1447.0,883.3 1448.9,885.3 1450.8,893.4 1452.7,896.0 1454.6,886.1 1456.5,877.3 1458.4,886.3 1460.3,884.6 1462.2,880.8 1464.1,894.0 1466.0,896.0 1467.9,886.3 1469.8,876.8 1471.7,885.7 1473.6,887.6 1475.5,889.0 1477.4,894.0 1479.3,895.8 1481.2,886.2 1483.1,881.0 1485.0,886.1 1486.9,882.2 1488.8,888.6 1490.7,893.6 1492.6,895.8 1494.5,883.4 1496.4,880.3 1498.3,882.3 1500.2,884.0 1502.1,884.8 1504.0,893.8 1505.9,896.1 1507.8,883.4 1509.7,878.1 1511.6,885.4 1513.5,885.5 1515.4,888.8 1517.3,894.2 1519.2,895.9 1521.1,882.0 1523.0,882.2 1524.9,885.9 1526.8,886.9 1528.7,887.3 1530.6,893.9 1532.5,896.0 1534.4,885.1 1536.3,876.2 1538.2,885.1 1540.1,883.3 1542.0,886.6 1543.9,892.6 1545.8,896.2 1547.7,887.9 1549.6,881.3 1551.5,881.6 1553.4,888.3 1555.3,888.9 1557.2,894.4 1559.1,896.2 1561.0,886.3 1563.0,875.3 1564.9,882.0 1566.8,883.5 1568.7,886.7 1570.6,893.2 1572.5,896.3 1574.4,884.6 1576.3,878.9 1578.2,883.2 1580.1,886.2 1582.0,886.1 1583.9,892.9 1585.8,895.7 1587.7,876.7 1589.6,880.9 1591.5,882.7 1593.4,885.9 1595.3,885.0 1597.2,893.3 1599.1,895.8 1601.0,885.8 1602.9,883.9 1604.8,886.5 1606.7,882.6 1608.6,884.5 1610.5,892.9 1612.4,896.2 1614.3,878.0 1616.2,876.6 1618.1,880.3 1620.0,886.7 1621.9,886.0 1623.8,894.4 1625.7,896.0 1627.6,887.8 1629.5,874.5 1631.4,881.7 1633.3,888.7 1635.2,889.2 1637.1,892.9 1639.0,896.3 1640.9,882.8 1642.8,878.0 1644.7,884.9 1646.6,888.6 1648.5,888.0 1650.4,893.4 1652.3,896.0 1654.2,886.9 1656.1,878.0 1658.0,879.3 1659.9,888.3 1661.8,887.8 1663.7,893.1 1665.6,895.8 1667.5,883.6 1669.4,884.3 1671.3,880.4 1673.2,883.4 1675.1,884.8 1677.0,893.7 1678.9,895.8 1680.8,881.2 1682.7,879.6 1684.6,880.6 1686.5,883.6 1688.4,884.6 1690.3,894.0 1692.2,895.9 1694.1,885.0 1696.0,874.3 1697.9,880.6 1699.8,881.7 1701.7,884.7 1703.6,892.7 1705.5,895.9 1707.4,882.8 1709.3,879.3 1711.2,883.2 1713.1,884.8 1715.0,888.3 1716.9,893.0 1718.8,896.3 1720.7,883.1 1722.6,875.3 1724.5,880.6 1726.4,888.4 1728.4,885.8 1730.3,894.2 1732.2,896.3 1734.1,886.1 1736.0,876.0 1737.9,883.3 1739.8,885.4 1741.7,882.7 1743.6,891.6 1745.5,896.2 1747.4,878.8 1749.3,878.8 1751.2,876.4 1753.1,883.3 1755.0,888.0 1756.9,892.6 1758.8,895.9 1760.7,877.2 1762.6,863.9 1764.5,868.8 1766.4,881.6 1768.3,886.8 1770.2,892.3 1772.1,895.5 1774.0,880.7 1775.9,876.4 1777.8,876.8 1779.7,881.0 1781.6,880.5 1783.5,891.8 1785.4,895.7 1787.3,883.9 1789.2,875.1 1791.1,878.3 1793.0,878.6 1794.9,884.1 1796.8,891.0 1798.7,895.8 1800.6,878.7 1802.5,880.1 1804.4,878.3 1806.3,884.3 1808.2,884.4 1810.1,893.2 1812.0,896.3 1813.9,883.2 1815.8,875.3 1817.7,884.3 1819.6,887.3 1821.5,888.3 1823.4,893.0 1825.3,896.0 1827.2,884.5 1829.1,884.2 1831.0,888.1 1832.9,886.1 1834.8,890.3 1836.7,894.6 1838.6,896.9 1840.5,897.3 1842.4,897.3 1844.3,897.3 1846.2,897.3 1848.1,897.3 1850.0,897.3 1851.9,897.3 1853.8,897.3 1855.7,897.3 1857.6,881.5 1859.5,881.2 1861.4,878.5 1863.3,892.3 1865.2,895.3 1867.1,874.4 1869.0,872.8 1870.9,871.1 1872.8,879.4 1874.7,877.6 1876.6,890.0 1878.5,895.4 1880.4,866.0 1882.3,870.6 1884.2,872.8 1886.1,880.7 1888.0,883.1 1889.9,890.3 1891.8,895.5 1893.8,883.1 1895.7,862.0 1897.6,867.1 1899.5,880.2 1901.4,875.3 1903.3,890.9 1905.2,895.5 1907.1,879.1 1909.0,875.6 1910.9,874.5 1912.8,880.5 1914.7,881.8 1916.6,889.6 1918.5,895.7 1920.4,874.4 1922.3,875.0 1924.2,878.6 1926.1,882.5 1928.0,881.4 1929.9,892.5 1931.8,895.4 1933.7,876.7 1935.6,869.8 1937.5,881.6 1939.4,881.9 1941.3,882.3 1943.2,889.9 1945.1,895.6 1947.0,882.4 1948.9,867.7 1950.8,873.4 1952.7,875.0 1954.6,883.6 1956.5,890.9 1958.4,894.9 1960.3,872.7 1962.2,872.0 1964.1,877.9 1966.0,873.3 1967.9,875.8 1969.8,892.1 1971.7,895.8 1973.6,874.2 1975.5,877.8" fill="none" stroke="#4d98e0" stroke-width="1.3" stroke-linejoin="round"/>
<polyline points="819.6,896.7 821.5,896.5 823.4,896.6 825.3,896.2 827.2,895.9 829.1,894.3 831.0,894.3 832.9,895.2 834.8,894.2 836.7,894.5 838.6,895.0 840.5,894.0 842.4,891.4 844.3,889.5 846.2,891.9 848.1,889.9 850.0,891.5 851.9,891.8 853.8,890.5 855.7,890.2 857.6,885.9 859.5,890.3 861.4,891.6 863.3,889.4 865.2,889.8 867.1,892.3 869.0,887.9 870.9,885.5 872.8,886.9 874.7,886.8 876.6,890.1 878.5,892.5 880.4,892.5 882.3,889.6 884.2,882.5 886.1,886.9 888.0,888.1 889.9,889.7 891.8,887.8 893.7,892.3 895.6,884.4 897.5,885.0 899.4,886.3 901.3,885.1 903.3,889.6 905.2,894.7 907.1,896.0 909.0,882.5 910.9,883.1 912.8,882.7 914.7,884.9 916.6,884.8 918.5,894.1 920.4,895.8 922.3,884.8 924.2,882.6 926.1,885.2 928.0,885.8 929.9,883.2 931.8,893.1 933.7,896.1 935.6,884.9 937.5,881.1 939.4,880.0 941.3,883.6 943.2,885.6 945.1,893.5 947.0,895.8 948.9,881.4 950.8,878.8 952.7,879.4 954.6,882.0 956.5,884.9 958.4,891.9 960.3,896.0 962.2,878.2 964.1,880.1 966.0,876.3 967.9,880.9 969.8,886.1 971.7,890.8 973.6,895.7 975.5,883.3 977.4,873.1 979.3,877.1 981.2,879.1 983.1,887.0 985.0,892.2 986.9,895.8 988.8,879.1 990.7,870.2 992.6,876.1 994.5,884.9 996.4,882.4 998.3,891.7 1000.2,895.9 1002.1,880.1 1004.0,869.2 1005.9,870.9 1007.8,880.5 1009.7,875.3 1011.6,890.6 1013.5,894.4 1015.4,871.3 1017.3,872.9 1019.2,874.9 1021.1,871.5 1023.0,880.7 1024.9,891.1 1026.8,895.0 1028.7,876.4 1030.6,865.4 1032.5,878.5 1034.4,876.6 1036.3,877.6 1038.2,889.3 1040.1,895.3 1042.0,871.1 1043.9,857.8 1045.8,876.6 1047.7,872.3 1049.6,876.6 1051.5,891.6 1053.4,894.6 1055.3,872.3 1057.2,859.5 1059.1,860.6 1061.0,881.0 1062.9,876.0 1064.8,890.3 1066.7,894.9 1068.7,878.5 1070.6,857.3 1072.5,869.9 1074.4,877.1 1076.3,876.5 1078.2,892.7 1080.1,894.9 1082.0,881.2 1083.9,876.7 1085.8,874.0 1087.7,884.0 1089.6,887.9 1091.5,893.5 1093.4,895.6 1095.3,881.0 1097.2,875.4 1099.1,880.2 1101.0,885.2 1102.9,889.2 1104.8,893.8 1106.7,895.9 1108.6,885.4 1110.5,875.0 1112.4,883.5 1114.3,885.1 1116.2,889.7 1118.1,893.8 1120.0,896.4 1121.9,888.7 1123.8,880.1 1125.7,885.3 1127.6,889.6 1129.5,888.4 1131.4,894.6 1133.3,896.5 1135.2,887.9 1137.1,886.1 1139.0,884.6 1140.9,891.5 1142.8,889.3 1144.7,895.1 1146.6,896.9 1148.5,893.7 1150.4,893.5 1152.3,895.4 1154.2,895.2 1156.1,895.6 1158.0,896.8 1159.9,897.2 1161.8,896.1 1163.7,895.4 1165.6,894.6 1167.5,892.9 1169.4,890.5 1171.3,894.3 1173.2,896.3 1175.1,885.3 1177.0,877.5 1178.9,885.2 1180.8,887.6 1182.7,889.1 1184.6,894.2 1186.5,896.1 1188.4,882.4 1190.3,882.0 1192.2,880.9 1194.1,884.0 1196.0,883.3 1197.9,893.3 1199.8,896.0 1201.7,884.1 1203.6,865.9 1205.5,873.7 1207.4,881.2 1209.3,886.9 1211.2,893.5 1213.1,896.1 1215.0,879.9 1216.9,880.6 1218.8,882.6 1220.7,881.3 1222.6,883.9 1224.5,893.4 1226.4,896.3 1228.3,881.6 1230.2,879.7 1232.1,879.7 1234.1,883.0 1236.0,885.3 1237.9,892.6 1239.8,896.1 1241.7,881.5 1243.6,881.7 1245.5,882.7 1247.4,882.4 1249.3,886.3 1251.2,894.1 1253.1,896.2 1255.0,880.2 1256.9,880.7 1258.8,881.1 1260.7,887.2 1262.6,885.3 1264.5,892.7 1266.4,896.2 1268.3,883.8 1270.2,870.6 1272.1,882.8 1274.0,886.1 1275.9,884.1 1277.8,892.6 1279.7,895.7 1281.6,884.4 1283.5,883.5 1285.4,885.6 1287.3,887.3 1289.2,888.7 1291.1,893.9 1293.0,895.6 1294.9,880.6 1296.8,875.1 1298.7,883.1 1300.6,886.9 1302.5,888.7 1304.4,894.2 1306.3,896.3 1308.2,883.1 1310.1,879.5 1312.0,882.8 1313.9,885.1 1315.8,886.8 1317.7,894.1 1319.6,896.0 1321.5,878.7 1323.4,873.1 1325.3,878.8 1327.2,883.6 1329.1,886.7 1331.0,892.6 1332.9,896.1 1334.8,881.2 1336.7,878.9 1338.6,882.6 1340.5,887.5 1342.4,888.6 1344.3,893.0 1346.2,896.0 1348.1,887.1 1350.0,876.1 1351.9,883.9 1353.8,879.6 1355.7,886.0 1357.6,893.7 1359.5,896.3 1361.4,884.2 1363.3,871.8 1365.2,886.0 1367.1,884.8 1369.0,889.0 1370.9,894.4 1372.8,896.1 1374.7,890.7 1376.6,885.9 1378.5,891.1 1380.4,891.7 1382.3,893.5 1384.2,895.7 1386.1,896.6 1388.0,891.5 1389.9,886.9 1391.8,889.1 1393.7,889.3 1395.6,890.4 1397.6,893.6 1399.5,896.1 1401.4,886.0 1403.3,869.0 1405.2,880.9 1407.1,882.9 1409.0,886.1 1410.9,893.4 1412.8,895.8 1414.7,883.8 1416.6,883.5 1418.5,886.0 1420.4,885.9 1422.3,885.7 1424.2,893.6 1426.1,895.8 1428.0,881.4 1429.9,878.9 1431.8,881.8 1433.7,885.3 1435.6,887.9 1437.5,893.8 1439.4,896.2 1441.3,881.8 1443.2,879.9 1445.1,882.6 1447.0,883.3 1448.9,885.3 1450.8,893.4 1452.7,896.0 1454.6,886.1 1456.5,877.3 1458.4,886.3 1460.3,884.6 1462.2,880.8 1464.1,894.0 1466.0,896.0 1467.9,886.3 1469.8,876.8 1471.7,885.7 1473.6,887.6 1475.5,889.0 1477.4,894.0 1479.3,895.8 1481.2,886.2 1483.1,881.0 1485.0,886.1 1486.9,882.2 1488.8,888.6 1490.7,893.6 1492.6,895.8 1494.5,883.4 1496.4,880.3 1498.3,882.3 1500.2,884.0 1502.1,884.8 1504.0,893.8 1505.9,896.1 1507.8,883.4 1509.7,878.1 1511.6,885.4 1513.5,885.5 1515.4,888.8 1517.3,894.2 1519.2,895.9 1521.1,882.0 1523.0,882.2 1524.9,885.9 1526.8,886.9 1528.7,887.3 1530.6,893.9 1532.5,896.0 1534.4,885.1 1536.3,876.2 1538.2,885.1 1540.1,883.3 1542.0,886.6 1543.9,892.6 1545.8,896.2 1547.7,887.9 1549.6,881.3 1551.5,881.6 1553.4,888.3 1555.3,888.9 1557.2,894.4 1559.1,896.2 1561.0,886.3 1563.0,875.3 1564.9,882.0 1566.8,883.5 1568.7,886.7 1570.6,893.2 1572.5,896.3 1574.4,884.6 1576.3,878.9 1578.2,883.2 1580.1,886.2 1582.0,886.1 1583.9,892.9 1585.8,895.7 1587.7,876.7 1589.6,880.9 1591.5,882.7 1593.4,885.9 1595.3,885.0 1597.2,893.3 1599.1,895.8 1601.0,885.8 1602.9,883.9 1604.8,886.5 1606.7,882.6 1608.6,884.5 1610.5,892.9 1612.4,896.2 1614.3,878.0 1616.2,876.6 1618.1,880.3 1620.0,886.7 1621.9,886.0 1623.8,894.4 1625.7,896.0 1627.6,887.8 1629.5,874.5 1631.4,881.7 1633.3,888.7 1635.2,889.2 1637.1,892.9 1639.0,896.3 1640.9,882.8 1642.8,878.0 1644.7,884.9 1646.6,888.6 1648.5,888.0 1650.4,893.4 1652.3,896.0 1654.2,886.9 1656.1,878.0 1658.0,879.3 1659.9,888.3 1661.8,887.8 1663.7,893.1 1665.6,895.8 1667.5,883.6 1669.4,884.3 1671.3,880.4 1673.2,883.4 1675.1,884.8 1677.0,893.7 1678.9,895.8 1680.8,881.2 1682.7,879.6 1684.6,880.6 1686.5,883.6 1688.4,884.6 1690.3,894.0 1692.2,895.9 1694.1,885.0 1696.0,874.3 1697.9,880.6 1699.8,881.7 1701.7,884.7 1703.6,892.7 1705.5,895.9 1707.4,882.8 1709.3,879.3 1711.2,883.2 1713.1,884.8 1715.0,888.3 1716.9,893.0 1718.8,896.3 1720.7,883.1 1722.6,875.3 1724.5,880.6 1726.4,888.4 1728.4,885.8 1730.3,894.2 1732.2,896.3 1734.1,886.1 1736.0,876.9 1737.9,885.0 1739.8,887.6 1741.7,884.6 1743.6,892.5 1745.5,896.3 1747.4,882.4 1749.3,881.1 1751.2,879.6 1753.1,886.2 1755.0,889.1 1756.9,893.2 1758.8,896.2 1760.7,879.9 1762.6,867.2 1764.5,872.2 1766.4,884.2 1768.3,888.1 1770.2,892.9 1772.1,895.7 1774.0,883.4 1775.9,880.4 1777.8,879.1 1779.7,882.8 1781.6,884.0 1783.5,893.0 1785.4,895.9 1787.3,885.6 1789.2,878.9 1791.1,882.1 1793.0,882.4 1794.9,887.0 1796.8,892.2 1798.7,896.0 1800.6,881.1 1802.5,882.4 1804.4,882.5 1806.3,886.2 1808.2,886.4 1810.1,894.0 1812.0,896.5 1813.9,886.8 1815.8,882.2 1817.7,887.8 1819.6,889.8 1821.5,891.6 1823.4,894.5 1825.3,896.4 1827.2,888.4 1829.1,887.4 1831.0,890.6 1832.9,890.5 1834.8,892.2 1836.7,895.9 1838.6,897.1 1840.5,897.3 1842.4,897.3 1844.3,897.3 1846.2,897.3 1848.1,897.3 1850.0,897.3 1851.9,897.3 1853.8,897.3 1855.7,897.3 1857.6,885.8 1859.5,885.1 1861.4,883.5 1863.3,893.5 1865.2,895.7 1867.1,880.1 1869.0,878.2 1870.9,877.4 1872.8,885.3 1874.7,883.8 1876.6,892.3 1878.5,895.8 1880.4,874.9 1882.3,877.5 1884.2,879.0 1886.1,884.6 1888.0,886.5 1889.9,892.2 1891.8,896.0 1893.8,885.9 1895.7,872.9 1897.6,877.4 1899.5,884.9 1901.4,883.1 1903.3,892.9 1905.2,896.0 1907.1,884.2 1909.0,881.9 1910.9,880.8 1912.8,884.7 1914.7,885.6 1916.6,891.8 1918.5,896.2 1920.4,880.5 1922.3,881.3 1924.2,884.2 1926.1,885.3 1928.0,886.4 1929.9,894.1 1931.8,895.8 1933.7,883.1 1935.6,877.2 1937.5,884.8 1939.4,887.1 1941.3,885.1 1943.2,892.3 1945.1,896.0 1947.0,886.2 1948.9,878.1 1950.8,880.7 1952.7,882.7 1954.6,887.0 1956.5,892.7 1958.4,895.6 1960.3,881.3 1962.2,877.7 1964.1,882.7 1966.0,879.7 1967.9,883.2 1969.8,893.3 1971.7,896.1 1973.6,881.7 1975.5,882.0" fill="none" stroke="#e8527f" stroke-width="1.4" stroke-linejoin="round"/>
<polyline points="819.6,897.1 821.5,897.1 823.4,897.1 825.3,897.0 827.2,896.9 829.1,896.2 831.0,896.5 832.9,896.6 834.8,896.5 836.7,896.5 838.6,896.5 840.5,896.3 842.4,895.1 844.3,895.2 846.2,895.5 848.1,894.8 850.0,895.2 851.9,895.9 853.8,894.9 855.7,895.5 857.6,894.4 859.5,895.2 861.4,895.5 863.3,895.1 865.2,894.5 867.1,895.9 869.0,895.0 870.9,892.9 872.8,893.8 874.7,893.5 876.6,895.4 878.5,896.0 880.4,896.1 882.3,895.3 884.2,893.1 886.1,893.5 888.0,894.9 889.9,894.5 891.8,894.2 893.7,895.7 895.6,893.6 897.5,893.3 899.4,893.3 901.3,892.8 903.3,895.0 905.2,896.5 907.1,896.8 909.0,891.6 910.9,893.3 912.8,891.9 914.7,894.0 916.6,892.8 918.5,896.1 920.4,896.7 922.3,892.9 924.2,891.7 926.1,892.6 928.0,894.1 929.9,892.6 931.8,895.7 933.7,897.0 935.6,893.6 937.5,892.3 939.4,891.8 941.3,892.7 943.2,894.2 945.1,896.1 947.0,896.8 948.9,892.9 950.8,890.5 952.7,890.3 954.6,892.2 956.5,893.2 958.4,895.2 960.3,896.8 962.2,891.9 964.1,892.6 966.0,891.3 967.9,890.9 969.8,893.7 971.7,894.8 973.6,896.8 975.5,892.2 977.4,890.8 979.3,891.7 981.2,892.2 983.1,894.1 985.0,895.3 986.9,896.9 988.8,892.2 990.7,889.8 992.6,891.4 994.5,893.1 996.4,892.7 998.3,895.6 1000.2,896.9 1002.1,890.8 1004.0,888.3 1005.9,887.3 1007.8,890.4 1009.7,889.7 1011.6,895.0 1013.5,896.4 1015.4,888.6 1017.3,890.4 1019.2,890.9 1021.1,889.1 1023.0,892.3 1024.9,894.7 1026.8,896.6 1028.7,891.5 1030.6,887.5 1032.5,891.8 1034.4,890.6 1036.3,889.6 1038.2,894.0 1040.1,896.4 1042.0,889.8 1043.9,881.8 1045.8,889.9 1047.7,888.0 1049.6,890.7 1051.5,895.4 1053.4,896.3 1055.3,888.3 1057.2,883.6 1059.1,882.7 1061.0,890.8 1062.9,889.6 1064.8,894.5 1066.7,896.4 1068.7,889.8 1070.6,884.4 1072.5,886.5 1074.4,890.0 1076.3,888.1 1078.2,895.6 1080.1,896.4 1082.0,892.1 1083.9,888.2 1085.8,887.2 1087.7,892.4 1089.6,893.9 1091.5,896.0 1093.4,896.8 1095.3,890.1 1097.2,889.5 1099.1,891.3 1101.0,893.5 1102.9,894.6 1104.8,896.2 1106.7,896.7 1108.6,892.0 1110.5,888.0 1112.4,892.5 1114.3,892.7 1116.2,893.8 1118.1,896.1 1120.0,897.0 1121.9,894.0 1123.8,890.8 1125.7,893.0 1127.6,894.2 1129.5,894.0 1131.4,896.3 1133.3,896.9 1135.2,893.1 1137.1,893.1 1139.0,891.6 1140.9,894.7 1142.8,894.3 1144.7,896.3 1146.6,897.2 1148.5,895.6 1150.4,895.8 1152.3,896.6 1154.2,896.6 1156.1,896.7 1158.0,897.1 1159.9,897.2 1161.8,896.7 1163.7,896.6 1165.6,896.3 1167.5,895.6 1169.4,894.9 1171.3,895.8 1173.2,896.7 1175.1,888.8 1177.0,886.7 1178.9,889.8 1180.8,890.8 1182.7,892.7 1184.6,895.6 1186.5,896.4 1188.4,885.3 1190.3,885.6 1192.2,886.3 1194.1,888.6 1196.0,885.0 1197.9,894.0 1199.8,896.5 1201.7,888.5 1203.6,874.4 1205.5,882.9 1207.4,883.8 1209.3,887.9 1211.2,894.2 1213.1,896.6 1215.0,881.6 1216.9,882.1 1218.8,886.5 1220.7,883.6 1222.6,886.7 1224.5,894.5 1226.4,896.6 1228.3,887.7 1230.2,881.8 1232.1,886.2 1234.1,887.6 1236.0,887.2 1237.9,894.3 1239.8,896.4 1241.7,886.6 1243.6,885.0 1245.5,886.2 1247.4,883.6 1249.3,887.7 1251.2,895.1 1253.1,896.3 1255.0,882.3 1256.9,882.3 1258.8,886.5 1260.7,890.4 1262.6,890.0 1264.5,894.3 1266.4,896.3 1268.3,887.5 1270.2,879.9 1272.1,887.2 1274.0,889.3 1275.9,887.8 1277.8,894.2 1279.7,896.1 1281.6,887.6 1283.5,886.2 1285.4,888.9 1287.3,889.6 1289.2,890.0 1291.1,895.1 1293.0,896.0 1294.9,882.4 1296.8,878.4 1298.7,885.0 1300.6,889.3 1302.5,890.2 1304.4,894.9 1306.3,896.5 1308.2,886.0 1310.1,884.2 1312.0,888.5 1313.9,887.0 1315.8,889.4 1317.7,894.9 1319.6,896.3 1321.5,881.7 1323.4,878.9 1325.3,881.1 1327.2,888.2 1329.1,887.8 1331.0,893.1 1332.9,896.3 1334.8,883.4 1336.7,885.1 1338.6,888.3 1340.5,889.3 1342.4,891.8 1344.3,894.2 1346.2,896.3 1348.1,889.1 1350.0,877.8 1351.9,887.3 1353.8,882.0 1355.7,888.4 1357.6,895.2 1359.5,896.5 1361.4,888.9 1363.3,882.0 1365.2,889.7 1367.1,887.3 1369.0,891.7 1370.9,895.0 1372.8,896.4 1374.7,892.1 1376.6,887.1 1378.5,893.5 1380.4,893.8 1382.3,893.9 1384.2,896.0 1386.1,896.7 1388.0,893.7 1389.9,891.0 1391.8,890.4 1393.7,891.9 1395.6,891.6 1397.6,894.7 1399.5,896.3 1401.4,887.1 1403.3,877.9 1405.2,883.6 1407.1,887.6 1409.0,888.2 1410.9,893.9 1412.8,896.2 1414.7,888.3 1416.6,888.4 1418.5,889.3 1420.4,887.9 1422.3,890.1 1424.2,894.1 1426.1,896.3 1428.0,887.2 1429.9,881.3 1431.8,884.9 1433.7,887.2 1435.6,891.6 1437.5,894.4 1439.4,896.3 1441.3,887.9 1443.2,885.0 1445.1,884.4 1447.0,888.9 1448.9,890.1 1450.8,893.9 1452.7,896.4 1454.6,889.5 1456.5,884.6 1458.4,888.2 1460.3,888.0 1462.2,882.7 1464.1,895.0 1466.0,896.4 1467.9,888.8 1469.8,882.7 1471.7,887.8 1473.6,889.1 1475.5,890.0 1477.4,895.0 1479.3,896.3 1481.2,888.8 1483.1,882.5 1485.0,890.2 1486.9,884.7 1488.8,891.8 1490.7,895.0 1492.6,896.1 1494.5,888.3 1496.4,882.1 1498.3,886.3 1500.2,886.0 1502.1,887.2 1504.0,894.5 1505.9,896.3 1507.8,887.1 1509.7,881.6 1511.6,887.2 1513.5,890.1 1515.4,889.7 1517.3,894.9 1519.2,896.2 1521.1,886.1 1523.0,886.3 1524.9,889.2 1526.8,891.0 1528.7,890.2 1530.6,894.5 1532.5,896.4 1534.4,889.5 1536.3,881.5 1538.2,888.6 1540.1,886.8 1542.0,888.0 1543.9,894.1 1545.8,896.5 1547.7,890.8 1549.6,885.5 1551.5,883.2 1553.4,889.3 1555.3,890.6 1557.2,894.7 1559.1,896.6 1561.0,889.5 1563.0,882.9 1564.9,884.9 1566.8,888.2 1568.7,889.4 1570.6,894.5 1572.5,896.5 1574.4,887.7 1576.3,886.2 1578.2,885.8 1580.1,887.3 1582.0,890.5 1583.9,893.4 1585.8,896.1 1587.7,880.2 1589.6,885.5 1591.5,887.6 1593.4,887.5 1595.3,887.9 1597.2,893.7 1599.1,896.3 1601.0,888.1 1602.9,885.5 1604.8,890.8 1606.7,885.4 1608.6,887.1 1610.5,893.8 1612.4,896.4 1614.3,884.6 1616.2,880.5 1618.1,884.1 1620.0,889.9 1621.9,890.3 1623.8,895.4 1625.7,896.1 1627.6,889.8 1629.5,880.6 1631.4,887.2 1633.3,891.8 1635.2,892.1 1637.1,894.3 1639.0,896.7 1640.9,885.2 1642.8,882.9 1644.7,887.0 1646.6,889.8 1648.5,891.2 1650.4,894.9 1652.3,896.3 1654.2,889.8 1656.1,883.3 1658.0,883.3 1659.9,889.9 1661.8,888.7 1663.7,894.4 1665.6,896.2 1667.5,885.5 1669.4,887.7 1671.3,886.9 1673.2,886.4 1675.1,887.1 1677.0,895.0 1678.9,896.3 1680.8,884.5 1682.7,885.3 1684.6,886.8 1686.5,886.6 1688.4,887.8 1690.3,895.1 1692.2,896.3 1694.1,889.4 1696.0,882.7 1697.9,884.1 1699.8,887.8 1701.7,887.5 1703.6,893.9 1705.5,896.1 1707.4,887.6 1709.3,883.3 1711.2,884.8 1713.1,889.3 1715.0,890.0 1716.9,894.2 1718.8,896.4 1720.7,887.6 1722.6,878.2 1724.5,883.8 1726.4,889.8 1728.4,888.3 1730.3,895.1 1732.2,896.6 1734.1,888.5 1736.0,885.4 1737.9,887.1 1739.8,891.6 1741.7,888.7 1743.6,894.1 1745.5,896.7 1747.4,888.9 1749.3,888.3 1751.2,887.5 1753.1,891.4 1755.0,891.8 1756.9,895.0 1758.8,896.7 1760.7,888.8 1762.6,878.2 1764.5,881.2 1766.4,889.0 1768.3,891.4 1770.2,895.3 1772.1,896.4 1774.0,889.8 1775.9,888.3 1777.8,889.4 1779.7,889.6 1781.6,890.1 1783.5,895.7 1785.4,896.6 1787.3,892.4 1789.2,891.0 1791.1,891.9 1793.0,891.5 1794.9,893.8 1796.8,895.2 1798.7,896.8 1800.6,891.7 1802.5,892.6 1804.4,892.7 1806.3,892.7 1808.2,894.0 1810.1,896.1 1812.0,897.0 1813.9,894.1 1815.8,891.2 1817.7,893.5 1819.6,894.4 1821.5,895.4 1823.4,896.2 1825.3,897.1 1827.2,894.7 1829.1,894.1 1831.0,895.6 1832.9,894.9 1834.8,895.5 1836.7,896.9 1838.6,897.3 1840.5,897.3 1842.4,897.3 1844.3,897.3 1846.2,897.3 1848.1,897.3 1850.0,897.3 1851.9,897.3 1853.8,897.3 1855.7,897.3 1857.6,894.4 1859.5,894.6 1861.4,893.3 1863.3,896.0 1865.2,896.9 1867.1,893.4 1869.0,892.8 1870.9,892.5 1872.8,893.8 1874.7,893.1 1876.6,895.9 1878.5,896.8 1880.4,890.4 1882.3,891.6 1884.2,892.0 1886.1,893.4 1888.0,894.4 1889.9,895.7 1891.8,897.0 1893.8,894.0 1895.7,889.6 1897.6,892.0 1899.5,893.8 1901.4,893.3 1903.3,896.1 1905.2,897.0 1907.1,893.4 1909.0,893.2 1910.9,891.9 1912.8,893.1 1914.7,894.5 1916.6,895.6 1918.5,897.0 1920.4,892.0 1922.3,892.9 1924.2,893.5 1926.1,893.8 1928.0,894.6 1929.9,896.5 1931.8,896.9 1933.7,893.8 1935.6,891.7 1937.5,893.5 1939.4,894.5 1941.3,894.6 1943.2,896.0 1945.1,897.0 1947.0,894.2 1948.9,893.1 1950.8,892.9 1952.7,892.6 1954.6,894.2 1956.5,895.8 1958.4,896.9 1960.3,893.4 1962.2,892.6 1964.1,892.6 1966.0,892.5 1967.9,894.1 1969.8,896.3 1971.7,897.0 1973.6,893.8 1975.5,892.6" fill="none" stroke="#b0dc66" stroke-width="1.3" stroke-linejoin="round"/>
<rect x="1922.5" y="855.5" width="53.5" height="43.299999999999955" fill="#7188c4" fill-opacity="0.22"/>
<rect x="1917.5" y="866" width="10" height="21" rx="1" fill="#5a5d6e" fill-opacity="0.75" stroke="#7c8092" stroke-opacity="0.6" stroke-width="1"/>
<rect x="1970.5" y="866" width="10" height="21" rx="1" fill="#5a5d6e" fill-opacity="0.75" stroke="#7c8092" stroke-opacity="0.6" stroke-width="1"/>
<circle cx="1216" cy="931.7" r="8.7" fill="#4DA2F1"/>
<text x="1235.2" y="937.9000000000001" font-size="17.5" fill="#a7a5ac" stroke="#a7a5ac" stroke-width="0.4" textLength="72.6" lengthAdjust="spacingAndGlyphs">В работе</text>
<circle cx="1352" cy="931.7" r="8.7" fill="#FF3D64"/>
<text x="1370.6" y="937.9000000000001" font-size="17.5" fill="#a7a5ac" stroke="#a7a5ac" stroke-width="0.4" textLength="60.8" lengthAdjust="spacingAndGlyphs">Провал</text>
<circle cx="1475.5" cy="931.7" r="8.7" fill="#8AD554"/>
<text x="1495" y="937.9000000000001" font-size="17.5" fill="#a7a5ac" stroke="#a7a5ac" stroke-width="0.4" textLength="48.5" lengthAdjust="spacingAndGlyphs">Успех</text>
<circle cx="1953.2" cy="16.5" r="2.1" fill="#a19fa6"/>
<circle cx="1960.4" cy="16.5" r="2.1" fill="#a19fa6"/>
<circle cx="1967.6" cy="16.5" r="2.1" fill="#a19fa6"/>
<rect x="1437" y="499.5" width="235" height="198.5" rx="6" fill="#4c4950"/>
<rect x="1437" y="584" width="235" height="31" fill="#5a5860"/>
<line x1="1437" x2="1672" y1="654.5" y2="654.5" stroke="#625f67" stroke-width="1"/>
<text x="1458" y="533.5" font-size="19" font-weight="bold" fill="#e8e6ea" textLength="194" lengthAdjust="spacingAndGlyphs">25 Февраль 2025 Вт</text>
<rect x="1459" y="564.2" width="16.8" height="8.6" rx="1" fill="#8AD554"/>
<text x="1487.8" y="574.8" font-size="18" font-weight="bold" fill="#e8e6ea" textLength="51.3" lengthAdjust="spacingAndGlyphs">Успех</text>
<text x="1646" y="574.8" text-anchor="end" font-size="18" font-weight="bold" fill="#e8e6ea" letter-spacing="0.4">10</text>
<rect x="1459" y="595.7" width="16.8" height="8.6" rx="1" fill="#4DA2F1"/>
<text x="1487.8" y="606.3" font-size="18" font-weight="normal" fill="#e8e6ea" textLength="73.3" lengthAdjust="spacingAndGlyphs">В работе</text>
<text x="1646" y="606.3" text-anchor="end" font-size="18" font-weight="normal" fill="#e8e6ea" letter-spacing="0.4">5</text>
<rect x="1459" y="627.2" width="16.8" height="8.6" rx="1" fill="#FF3D64"/>
<text x="1487.8" y="637.8" font-size="18" font-weight="normal" fill="#e8e6ea" textLength="60.8" lengthAdjust="spacingAndGlyphs">Провал</text>
<text x="1646" y="637.8" text-anchor="end" font-size="18" font-weight="normal" fill="#e8e6ea" letter-spacing="0.4">5</text>
<text x="1459" y="683" font-size="18" fill="#dcdade" textLength="54.6" lengthAdjust="spacingAndGlyphs">Сумма</text>
<text x="1646" y="683" text-anchor="end" font-size="18" fill="#dcdade" letter-spacing="0.4">20</text>
</svg>
<div id="left">
 <div class="top"><svg style="position:absolute;left:38px;top:-4px" width="9" height="6" viewBox="0 0 9 6"><path d="M0 0H9L4.5 6z" fill="#e4e3e6"/></svg><span class="tt" style="left:69px;top:-13px;color:#e9e8ec;font-weight:bold;transform:scaleX(0.9318)">Датасет:</span><span class="tt" style="left:157px;top:-13px;color:#57749f;transform:scaleX(0.9407)">Leads GoogleShe...</span></div>
 <div class="search"><span>Поиск по имени и описанию</span></div>
 <div class="plus"></div>
 <div class="h">Измерения</div>
 <div class="fi" style="top:161.0px"><svg width="19" height="19" viewBox="0 0 19 19"><rect x="1.2" y="1.2" width="16.6" height="16.6" rx="4" fill="#5cc05c" fill-opacity="0.13" stroke="#5cc05c" stroke-width="1.8"/><path d="M5.8 6.2h7.4M9.5 6.2v7.4" stroke="#5cc05c" stroke-width="2.1" fill="none"/></svg></div>
<div class="fn" style="top:156.5px;transform:scaleX(0.8995)">CAREGORY</div>
<div class="fi" style="top:216.8px"><svg width="21" height="19" viewBox="0 0 21 19" style="margin-left:-1px"><path d="M8.3 2L5.7 17M15.6 2L13 17M2.2 6.6H20M1 12.4H18.8" stroke="#5cc05c" stroke-width="2" fill="none"/></svg></div>
<div class="fn" style="top:210.8px;transform:scaleX(0.8951)">CAREGORY_ID</div>
<div class="fi" style="top:269.5px"><svg width="19" height="20" viewBox="0 0 19 20" style="margin-top:-1px"><rect x="1.1" y="3.6" width="16.8" height="15.2" rx="3.8" fill="none" stroke="#5cc05c" stroke-width="1.9"/><path d="M1.2 9.4H17.8M5.7 0.8V5M13.3 0.8V5" stroke="#5cc05c" stroke-width="1.9" fill="none"/></svg></div>
<div class="fn" style="top:265.0px;transform:scaleX(0.9134)">DATE</div>
<div class="fi" style="top:325.3px"><svg width="21" height="19" viewBox="0 0 21 19" style="margin-left:-1px"><path d="M8.3 2L5.7 17M15.6 2L13 17M2.2 6.6H20M1 12.4H18.8" stroke="#5cc05c" stroke-width="2" fill="none"/></svg></div>
<div class="fn" style="top:319.3px;transform:scaleX(0.8947)">ID</div>
<div class="fi" style="top:378.1px"><svg width="19" height="19" viewBox="0 0 19 19"><rect x="1.2" y="1.2" width="16.6" height="16.6" rx="4" fill="#5cc05c" fill-opacity="0.13" stroke="#5cc05c" stroke-width="1.8"/><path d="M5.8 6.2h7.4M9.5 6.2v7.4" stroke="#5cc05c" stroke-width="2.1" fill="none"/></svg></div>
<div class="fn" style="top:373.6px;transform:scaleX(0.9472)">MANAGER</div>
<div class="fi" style="top:432.4px"><svg width="19" height="19" viewBox="0 0 19 19"><rect x="1.2" y="1.2" width="16.6" height="16.6" rx="4" fill="#5cc05c" fill-opacity="0.13" stroke="#5cc05c" stroke-width="1.8"/><path d="M5.8 6.2h7.4M9.5 6.2v7.4" stroke="#5cc05c" stroke-width="2.1" fill="none"/></svg></div>
<div class="fn" style="top:427.9px;transform:scaleX(0.9273)">MANAGER_ID</div>
<div class="fi" style="top:486.6px"><svg width="19" height="19" viewBox="0 0 19 19"><rect x="1.2" y="1.2" width="16.6" height="16.6" rx="4" fill="#5cc05c" fill-opacity="0.13" stroke="#5cc05c" stroke-width="1.8"/><path d="M5.8 6.2h7.4M9.5 6.2v7.4" stroke="#5cc05c" stroke-width="2.1" fill="none"/></svg></div>
<div class="fn" style="top:482.1px;transform:scaleX(0.9072)">REGION</div>
<div class="fi" style="top:540.9px"><svg width="19" height="19" viewBox="0 0 19 19"><rect x="1.2" y="1.2" width="16.6" height="16.6" rx="4" fill="#5cc05c" fill-opacity="0.13" stroke="#5cc05c" stroke-width="1.8"/><path d="M5.8 6.2h7.4M9.5 6.2v7.4" stroke="#5cc05c" stroke-width="2.1" fill="none"/></svg></div>
<div class="fn" style="top:536.4px;transform:scaleX(0.9059)">REGION_ARRAY</div>
<div class="fi" style="top:595.2px"><svg width="19" height="19" viewBox="0 0 19 19"><rect x="1.2" y="1.2" width="16.6" height="16.6" rx="4" fill="#5cc05c" fill-opacity="0.13" stroke="#5cc05c" stroke-width="1.8"/><path d="M5.8 6.2h7.4M9.5 6.2v7.4" stroke="#5cc05c" stroke-width="2.1" fill="none"/></svg></div>
<div class="fn" style="top:590.7px;transform:scaleX(0.8857)">SOURCE</div>
<div class="fi" style="top:649.4px"><svg width="19" height="19" viewBox="0 0 19 19"><rect x="1.2" y="1.2" width="16.6" height="16.6" rx="4" fill="#5cc05c" fill-opacity="0.13" stroke="#5cc05c" stroke-width="1.8"/><path d="M5.8 6.2h7.4M9.5 6.2v7.4" stroke="#5cc05c" stroke-width="2.1" fill="none"/></svg></div>
<div class="fn" style="top:644.9px;transform:scaleX(0.9097)">SOURCE_NAME</div>
<div class="fi" style="top:703.7px"><svg width="19" height="19" viewBox="0 0 19 19"><rect x="1.2" y="1.2" width="16.6" height="16.6" rx="4" fill="#5cc05c" fill-opacity="0.13" stroke="#5cc05c" stroke-width="1.8"/><path d="M5.8 6.2h7.4M9.5 6.2v7.4" stroke="#5cc05c" stroke-width="2.1" fill="none"/></svg></div>
<div class="fn" style="top:699.2px;transform:scaleX(0.9150)">STATUS</div>
<div class="fi" style="top:758.0px"><svg width="19" height="19" viewBox="0 0 19 19"><rect x="1.2" y="1.2" width="16.6" height="16.6" rx="4" fill="#5cc05c" fill-opacity="0.13" stroke="#5cc05c" stroke-width="1.8"/><path d="M5.8 6.2h7.4M9.5 6.2v7.4" stroke="#5cc05c" stroke-width="2.1" fill="none"/></svg></div>
<div class="fn" style="top:753.5px;transform:scaleX(0.8997)">STATUS_ID</div>
<div class="fi" style="top:812.2px"><svg width="19" height="19" viewBox="0 0 19 19"><rect x="1.2" y="1.2" width="16.6" height="16.6" rx="4" fill="#5cc05c" fill-opacity="0.13" stroke="#5cc05c" stroke-width="1.8"/><path d="M5.8 6.2h7.4M9.5 6.2v7.4" stroke="#5cc05c" stroke-width="2.1" fill="none"/></svg></div>
<div class="fn" style="top:807.7px;transform:scaleX(0.9230)">STATUS_NAME</div>
<div class="fi" style="top:866.5px"><svg width="19" height="19" viewBox="0 0 19 19"><rect x="1.2" y="1.2" width="16.6" height="16.6" rx="4" fill="#5cc05c" fill-opacity="0.13" stroke="#5cc05c" stroke-width="1.8"/><path d="M5.8 6.2h7.4M9.5 6.2v7.4" stroke="#5cc05c" stroke-width="2.1" fill="none"/></svg></div>
<div class="fn" style="top:862.0px;transform:scaleX(0.9123)">STATUS_SEMANTIC_ID</div>
<div class="fi" style="top:920.8px"><svg width="19" height="19" viewBox="0 0 19 19"><rect x="1.2" y="1.2" width="16.6" height="16.6" rx="4" fill="#5cc05c" fill-opacity="0.13" stroke="#5cc05c" stroke-width="1.8"/><path d="M5.8 6.2h7.4M9.5 6.2v7.4" stroke="#5cc05c" stroke-width="2.1" fill="none"/></svg></div>
<div class="fn it" style="top:916.3px;transform:scaleX(0.9398)">Measure Names</div>
</div>
<div id="mid">
 <div class="top">
  <svg style="position:absolute;left:31px;top:-13.5px" width="30" height="23" viewBox="0 0 32 24"><rect x="2" y="0" width="28" height="23" fill="#e94a55"/><path d="M0 18L10 8L16 13L26 2L30 5L17 20L10 14L2 23z" fill="#2f7fe0"/></svg>
  <span class="tt" style="left:69px;color:#e9e8ec;transform:scaleX(0.9687)">Диаграмма с областя...</span>
  <svg style="position:absolute;left:307px;top:-14.5px" width="26" height="26" viewBox="0 0 26 26"><circle cx="13" cy="13" r="9" fill="none" stroke="#dcdbe0" stroke-width="2.2" stroke-dasharray="4.2 2.9"/><circle cx="13" cy="13" r="7.5" fill="none" stroke="#dcdbe0" stroke-width="2"/></svg>
 </div>
 <div class="si" style="left:33.0px;top:56.0px"><svg width="24" height="20" viewBox="0 0 24 20"><path d="M2.5 10H22.5M15 3L22.5 10L15 17" stroke="#dddce0" stroke-width="2" fill="none" stroke-linejoin="round" stroke-linecap="round"/></svg></div><div class="st" style="top:53px;transform:scaleX(0.8914)">X</div>
<div class="pill" style="top:100px;background:#36473b"><div class="bar"></div><div class="pi"><svg width="19" height="20" viewBox="0 0 19 20" style="margin-top:-1px"><rect x="1.1" y="3.6" width="16.8" height="15.2" rx="3.8" fill="none" stroke="#5cc05c" stroke-width="1.9"/><path d="M1.2 9.4H17.8M5.7 0.8V5M13.3 0.8V5" stroke="#5cc05c" stroke-width="1.9" fill="none"/></svg></div><div class="pn" style="transform:scaleX(0.9033)">DATE</div><div class="pf"><svg width="24" height="22" viewBox="0 0 24 22"><text x="0.5" y="13.2" font-family='"Liberation Serif", serif' font-style="italic" font-weight="bold" font-size="15.5" fill="#6cc860">f</text><text x="7.6" y="13.4" font-family='"Liberation Sans", sans-serif' font-weight="bold" font-size="9.5" fill="#6cc860">(x)</text></svg></div></div>
<div class="hb" style="top:173px"></div>
<div class="si" style="left:35.0px;top:201.0px"><svg width="20" height="24" viewBox="0 0 20 24"><path d="M10 22V3.2M3 10.2L10 3.2L17 10.2" stroke="#dddce0" stroke-width="2" fill="none" stroke-linejoin="round" stroke-linecap="round"/></svg></div><div class="st" style="top:200px;transform:scaleX(0.8914)">Y</div>
<div class="pill" style="top:247px;background:#353c5c"><div class="pi"><svg width="21" height="19" viewBox="0 0 21 19" style="margin-left:-1px"><path d="M8.6 0.8L5.4 18.2M15.8 0.8L12.6 18.2M2.4 6H20.2M0.8 13H18.6" stroke="#5282ff" stroke-width="2.1" fill="none"/></svg></div><div class="pn" style="transform:scaleX(0.9570)">Число лидов</div><div class="pf"><svg width="24" height="22" viewBox="0 0 24 22"><text x="0.5" y="13.2" font-family='"Liberation Serif", serif' font-style="italic" font-weight="bold" font-size="15.5" fill="#e8e8ee">f</text><text x="7.6" y="13.4" font-family='"Liberation Sans", sans-serif' font-weight="bold" font-size="9.5" fill="#e8e8ee">(x)</text></svg></div></div>
<div class="hb" style="top:319.5px"></div>
<div class="si" style="left:32.0px;top:347.0px"><svg width="26" height="26" viewBox="0 0 26 26"><path d="M9.5 2.5L2.2 11.2a2.4 2.4 0 0 0 .3 3.3l5 4.3a2.4 2.4 0 0 0 3.3-.2l7.6-8.4a1.5 1.5 0 0 0-.2-2.2L11.6 2.4a1.5 1.5 0 0 0-2.1.1z" fill="none" stroke="#dddce0" stroke-width="2"/><path d="M2.5 11.5H18.5L10.5 19.5L6 18z" fill="#dddce0"/><path d="M21.5 15.5c1.6 2.3 2.4 3.6 2.4 4.8a2.4 2.4 0 0 1-4.8 0c0-1.2.8-2.5 2.4-4.8z" fill="#dddce0"/></svg></div><div class="st" style="top:347px;transform:scaleX(0.9993)">Цвета</div>
<div class="pill" style="top:394px;background:#36473b"><div class="pi"><svg width="19" height="19" viewBox="0 0 19 19"><rect x="1.2" y="1.2" width="16.6" height="16.6" rx="4" fill="#5cc05c" fill-opacity="0.13" stroke="#5cc05c" stroke-width="1.8"/><path d="M5.8 6.2h7.4M9.5 6.2v7.4" stroke="#5cc05c" stroke-width="2.1" fill="none"/></svg></div><div class="pn" style="transform:scaleX(0.9230)">STATUS_NAME</div></div>
<div class="hb" style="top:467px"></div>
<div class="si" style="left:33.0px;top:498.0px"><svg width="24" height="20" viewBox="0 0 24 20"><path d="M3 2H23.5M3 10H15M3 18H7.5" stroke="#dddce0" stroke-width="2.2" fill="none" stroke-linecap="round"/></svg></div><div class="st" style="top:495px;transform:scaleX(1.0193)">Сортировка</div>
<div class="hb" style="top:602px"></div>
<div class="si" style="left:35.0px;top:633.0px"><svg width="20" height="20" viewBox="0 0 20 20"><path d="M3.2 19L10 2L16.8 19M5.5 13.2H14.5" stroke="#dddce0" stroke-width="2" fill="none" stroke-linejoin="round" stroke-linecap="round"/></svg></div><div class="st" style="top:630px;transform:scaleX(1.0215)">Подписи</div>
<div class="pill" style="top:677px;background:#353c5c"><div class="pi"><svg width="21" height="19" viewBox="0 0 21 19" style="margin-left:-1px"><path d="M8.6 0.8L5.4 18.2M15.8 0.8L12.6 18.2M2.4 6H20.2M0.8 13H18.6" stroke="#5282ff" stroke-width="2.1" fill="none"/></svg></div><div class="pn" style="transform:scaleX(0.9570)">Число лидов</div><div class="pf"><svg width="24" height="22" viewBox="0 0 24 22"><text x="0.5" y="13.2" font-family='"Liberation Serif", serif' font-style="italic" font-weight="bold" font-size="15.5" fill="#e8e8ee">f</text><text x="7.6" y="13.4" font-family='"Liberation Sans", sans-serif' font-weight="bold" font-size="9.5" fill="#e8e8ee">(x)</text></svg></div></div>
<div class="hb" style="top:750px"></div>
<div class="si" style="left:33.0px;top:780.0px"><svg width="24" height="22" viewBox="0 0 24 22"><rect x="2.1" y="2.9" width="20" height="16.2" rx="4.6" fill="none" stroke="#dddce0" stroke-width="2.1"/><path d="M2 11H22" stroke="#dddce0" stroke-width="2.1"/></svg></div><div class="st" style="top:778px;transform:scaleX(0.9815)">Сплит <b class="beta">beta</b></div>
<div class="hb" style="top:885px"></div>
<div class="si" style="left:34.0px;top:914.0px"><svg width="22" height="26" viewBox="0 0 22 26"><ellipse cx="11" cy="6.3" rx="8.6" ry="3.9" fill="none" stroke="#dddce0" stroke-width="2.1"/><path d="M2.6 7.5C4 10.5 8.2 13.5 8.2 16V22.6a1 1 0 0 0 1 1H12.8a1 1 0 0 0 1-1V16C13.8 13.5 18 10.5 19.4 7.5" fill="none" stroke="#dddce0" stroke-width="2.1" stroke-linejoin="round"/></svg></div><div class="st" style="top:914px;transform:scaleX(1.0140)">Фильтры</div>
</div>
</body></html>
